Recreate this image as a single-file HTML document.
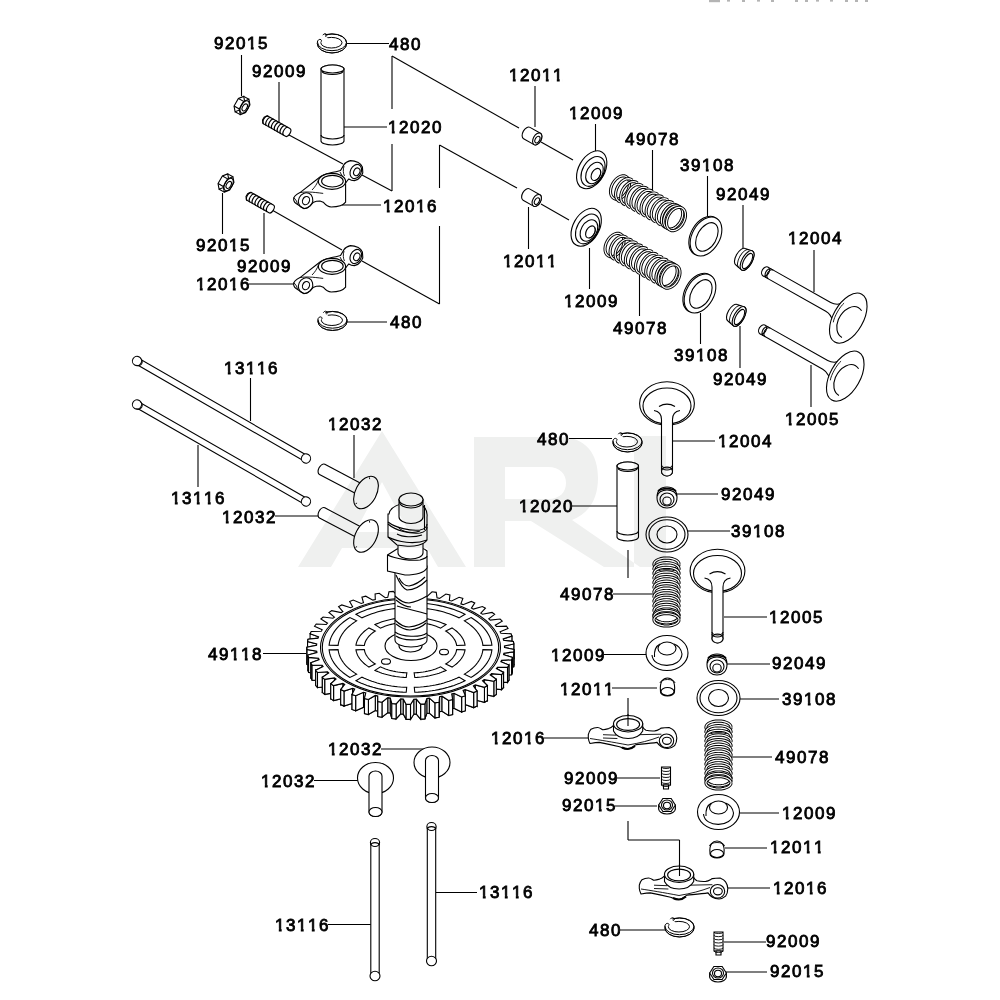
<!DOCTYPE html>
<html><head><meta charset="utf-8"><style>
html,body{margin:0;padding:0;background:#fff;width:1000px;height:1000px;overflow:hidden}
svg{position:absolute;left:0;top:0}
</style></head><body>
<svg width="1000" height="1000" viewBox="0 0 1000 1000">
<rect width="1000" height="1000" fill="#fff"/>
<g stroke="#000" stroke-width="1.1" fill="none">
<line x1="241.5" y1="55" x2="241.5" y2="96"/>
<line x1="279" y1="82" x2="279" y2="122"/>
<line x1="346" y1="43.5" x2="389" y2="43.5"/>
<line x1="344" y1="127" x2="387" y2="127"/>
<line x1="342" y1="205" x2="381" y2="205"/>
<line x1="222.5" y1="193" x2="222.5" y2="234"/>
<line x1="264" y1="213" x2="264" y2="254"/>
<line x1="249" y1="284" x2="296" y2="284"/>
<line x1="347" y1="322" x2="387" y2="322"/>
<line x1="392" y1="56" x2="392" y2="109"/>
<line x1="392" y1="144" x2="392" y2="191"/>
<line x1="392" y1="56" x2="519" y2="128"/>
<line x1="541" y1="142" x2="573" y2="160"/>
<line x1="439.5" y1="145" x2="439.5" y2="188"/>
<line x1="439.5" y1="145" x2="517" y2="188"/>
<line x1="541" y1="204" x2="569" y2="220"/>
<line x1="439.5" y1="226" x2="439.5" y2="304"/>
<line x1="289" y1="135" x2="343" y2="164"/>
<line x1="362" y1="175" x2="392" y2="191"/>
<line x1="272" y1="210" x2="342" y2="250"/>
<line x1="362" y1="261" x2="439.5" y2="304"/>
<line x1="535" y1="86" x2="535" y2="127"/>
<line x1="595.5" y1="124" x2="595.5" y2="152"/>
<line x1="652.5" y1="150" x2="652.5" y2="190"/>
<line x1="707.5" y1="176" x2="707.5" y2="218"/>
<line x1="743" y1="205" x2="743" y2="248"/>
<line x1="814" y1="250" x2="814" y2="292"/>
<line x1="528.5" y1="207" x2="528.5" y2="249"/>
<line x1="589.5" y1="248" x2="589.5" y2="289"/>
<line x1="639.5" y1="275" x2="639.5" y2="316"/>
<line x1="700.5" y1="313" x2="700.5" y2="344"/>
<line x1="740" y1="326" x2="740" y2="368"/>
<line x1="811" y1="365" x2="811" y2="407"/>
<line x1="250.5" y1="378" x2="250.5" y2="421"/>
<line x1="198" y1="445" x2="198" y2="487"/>
<line x1="354" y1="435" x2="354" y2="478"/>
<line x1="275" y1="516" x2="320" y2="516"/>
<line x1="263" y1="653.5" x2="306" y2="653.5"/>
<line x1="569" y1="438.5" x2="612" y2="438.5"/>
<line x1="673" y1="441" x2="715" y2="441"/>
<line x1="572" y1="506" x2="617" y2="506"/>
<line x1="677" y1="494" x2="718" y2="494"/>
<line x1="688" y1="531" x2="730" y2="531"/>
<line x1="628" y1="550" x2="628" y2="578"/>
<line x1="613" y1="594" x2="654" y2="594"/>
<line x1="724" y1="617" x2="767" y2="617"/>
<line x1="604" y1="654.5" x2="646" y2="654.5"/>
<line x1="727" y1="664" x2="770" y2="664"/>
<line x1="612" y1="688" x2="657" y2="688"/>
<line x1="628" y1="698" x2="628" y2="726"/>
<line x1="740" y1="699" x2="779" y2="699"/>
<line x1="544" y1="738" x2="589" y2="738"/>
<line x1="731" y1="757" x2="772" y2="757"/>
<line x1="617" y1="778" x2="660" y2="778"/>
<line x1="740" y1="813" x2="779" y2="813"/>
<line x1="615" y1="806" x2="657" y2="806"/>
<line x1="725" y1="848" x2="767" y2="848"/>
<line x1="628" y1="821" x2="628" y2="840"/>
<line x1="628" y1="840" x2="679.5" y2="840"/>
<line x1="679.5" y1="840" x2="679.5" y2="876"/>
<line x1="728" y1="888" x2="770" y2="888"/>
<line x1="620" y1="930" x2="665" y2="930"/>
<line x1="724" y1="942" x2="766" y2="942"/>
<line x1="726" y1="972" x2="767" y2="972"/>
<line x1="381" y1="749" x2="425" y2="749"/>
<line x1="314" y1="780.5" x2="358" y2="780.5"/>
<line x1="436" y1="892.5" x2="477" y2="892.5"/>
<line x1="328" y1="924.5" x2="371" y2="924.5"/>
</g>
<g transform="translate(332 43.5)"><g stroke="#000" stroke-width="1"><ellipse cx="0" cy="0" rx="14.75" ry="9.5" fill="#fff"/><path d="M-14.6,0.3 A14.6,9.1 0 0 0 14.6,0.3" fill="none" stroke-width="0.8"/><ellipse cx="0" cy="-1.2" rx="14.5" ry="8.4" fill="none"/><ellipse cx="-0.6" cy="-0.8" rx="10.6" ry="5.3" fill="#fff"/><path d="M-1,-1 L-17,-1.5 L-10,-12 Z" fill="#fff" stroke="none"/><path d="M-14.7,-1.2 C-14.5,-3.5 -12.5,-4.8 -11,-3.8 C-10,-3 -10.5,-1.5 -11.2,-1.8" fill="none"/><path d="M-9.2,-8.3 C-8.2,-10.3 -5.5,-10.2 -5.2,-8.5 C-5,-7.2 -6.2,-6.8 -6.8,-7.3" fill="none"/></g></g>
<g stroke="#000" stroke-width="1.1"><path d="M321,69 L321,141 A11.5,4 0 0 0 344,141 L344,69 A11.5,4 0 0 0 321,69 Z" fill="#fff"/><ellipse cx="332.5" cy="69" rx="11.5" ry="4" fill="#fff" /><path d="M322,71 A10.5,3.5 0 0 0 343,71" fill="none"/><path d="M321,135 A11.5,4 0 0 0 344,135" fill="none"/></g>
<g transform="translate(242 105.5) rotate(29.5)"><g stroke="#000" stroke-width="1.1"><path d="M-3,-8.5 L3,-8.5 L3,8.5 L-3,8.5 Z" fill="#fff" stroke="none"/><polygon points="-3,8.8 -6.64,4.4 -6.64,-4.4 -3,-8.8 0.64,-4.4 0.64,4.4" fill="#fff"/><path d="M-3,-8.8 L3,-8.8 M-6.6,-4.4 L-0.6,-4.4 M-6.6,4.4 L-0.6,4.4 M-3,8.8 L3,8.8" fill="none"/><polygon points="3,8.8 -0.64,4.4 -0.64,-4.4 3,-8.8 6.64,-4.4 6.64,4.4" fill="#fff"/><ellipse cx="3" cy="0" rx="3.8" ry="6.8" fill="none" /><ellipse cx="3.3" cy="0.3" rx="2.2" ry="3.8" fill="#fff" /></g></g>
<g transform="translate(275.5 125.5) rotate(29.5)"><g stroke="#000" stroke-width="1.1"><path d="M-11.5,-4.5 L14,-4.5 A2.5,4.5 0 0 1 14,4.5 L-11.5,4.5 L-14,1.7 L-14,-1.7 Z" fill="#fff"/><path d="M-11,-4.5 A2.4,4.5 0 0 0 -11,4.5" fill="none"/><path d="M-7.71,-4.5 A2.4,4.5 0 0 0 -7.71,4.5" fill="none"/><path d="M-4.43,-4.5 A2.4,4.5 0 0 0 -4.43,4.5" fill="none"/><path d="M-1.14,-4.5 A2.4,4.5 0 0 0 -1.14,4.5" fill="none"/><path d="M2.14,-4.5 A2.4,4.5 0 0 0 2.14,4.5" fill="none"/><path d="M5.43,-4.5 A2.4,4.5 0 0 0 5.43,4.5" fill="none"/><path d="M8.71,-4.5 A2.4,4.5 0 0 0 8.71,4.5" fill="none"/><path d="M12,-4.5 A2.4,4.5 0 0 0 12,4.5" fill="none"/></g></g>
<g transform="translate(0 0)" stroke="#000" stroke-width="1.1"><path d="M318.4,178.2 L300,192.6 C296,194.6 293.6,196.6 293.6,199 C293.6,201.6 295.5,203.5 297.6,204.6 L304,208.6 C306,208.6 308,207.6 309.6,206.2 L313.6,202.2 C316,201 318,201 320,201 L323.2,202.2 C326,205.5 328.5,207 331.2,207 C338,207 343.5,205 345.6,202.2 L345.6,183 C347,181 348,179.5 348.8,179 C351,180.5 352.5,180.6 354.4,180.6 C357,180 359,179 360,177.4 C362,175 362.8,174 362.8,172.6 L362.4,167 C361,164 359,163 357.6,162.2 C355,160.8 352.5,160.6 350.4,160.6 C347,161.5 345,163 344,164.6 L340.5,170.5 C337,171.5 335,172 332.8,172.2 C326,173.5 321,175.5 318.4,178.2 Z" fill="#fff"/><ellipse cx="355.8" cy="171.5" rx="5.4" ry="7.4" transform="rotate(25 355.8 171.5)" fill="none"/><ellipse cx="356.8" cy="171.8" rx="3" ry="4" transform="rotate(25 356.8 171.8)" fill="#fff"/><path d="M344,166 C343,170 343,173 344.5,176 M340,172 L346,183" fill="none" stroke-width="0.9"/><ellipse cx="305.6" cy="200.6" rx="7" ry="8" transform="rotate(25 305.6 200.6)" fill="none"/><ellipse cx="306" cy="200.6" rx="3.4" ry="4.3" transform="rotate(25 306 200.6)" fill="#fff"/><path d="M300,192.6 C306,191.5 312,192 323.2,193.4 M312,190 C315,187 317,184 318.4,180" fill="none" stroke-width="0.9"/><path d="M293.8,197.5 L296.5,201 L297.6,204.6" fill="none" stroke-width="0.9"/><ellipse cx="332" cy="181.4" rx="13.6" ry="8" fill="#fff"/><ellipse cx="332.4" cy="181.2" rx="10.8" ry="5.8" fill="#fff"/></g>
<g transform="translate(226 183) rotate(29.5)"><g stroke="#000" stroke-width="1.1"><path d="M-3,-8.5 L3,-8.5 L3,8.5 L-3,8.5 Z" fill="#fff" stroke="none"/><polygon points="-3,8.8 -6.64,4.4 -6.64,-4.4 -3,-8.8 0.64,-4.4 0.64,4.4" fill="#fff"/><path d="M-3,-8.8 L3,-8.8 M-6.6,-4.4 L-0.6,-4.4 M-6.6,4.4 L-0.6,4.4 M-3,8.8 L3,8.8" fill="none"/><polygon points="3,8.8 -0.64,4.4 -0.64,-4.4 3,-8.8 6.64,-4.4 6.64,4.4" fill="#fff"/><ellipse cx="3" cy="0" rx="3.8" ry="6.8" fill="none" /><ellipse cx="3.3" cy="0.3" rx="2.2" ry="3.8" fill="#fff" /></g></g>
<g transform="translate(259 202) rotate(29.5)"><g stroke="#000" stroke-width="1.1"><path d="M-11.5,-4.5 L14,-4.5 A2.5,4.5 0 0 1 14,4.5 L-11.5,4.5 L-14,1.7 L-14,-1.7 Z" fill="#fff"/><path d="M-11,-4.5 A2.4,4.5 0 0 0 -11,4.5" fill="none"/><path d="M-7.71,-4.5 A2.4,4.5 0 0 0 -7.71,4.5" fill="none"/><path d="M-4.43,-4.5 A2.4,4.5 0 0 0 -4.43,4.5" fill="none"/><path d="M-1.14,-4.5 A2.4,4.5 0 0 0 -1.14,4.5" fill="none"/><path d="M2.14,-4.5 A2.4,4.5 0 0 0 2.14,4.5" fill="none"/><path d="M5.43,-4.5 A2.4,4.5 0 0 0 5.43,4.5" fill="none"/><path d="M8.71,-4.5 A2.4,4.5 0 0 0 8.71,4.5" fill="none"/><path d="M12,-4.5 A2.4,4.5 0 0 0 12,4.5" fill="none"/></g></g>
<g transform="translate(0 85)" stroke="#000" stroke-width="1.1"><path d="M318.4,178.2 L300,192.6 C296,194.6 293.6,196.6 293.6,199 C293.6,201.6 295.5,203.5 297.6,204.6 L304,208.6 C306,208.6 308,207.6 309.6,206.2 L313.6,202.2 C316,201 318,201 320,201 L323.2,202.2 C326,205.5 328.5,207 331.2,207 C338,207 343.5,205 345.6,202.2 L345.6,183 C347,181 348,179.5 348.8,179 C351,180.5 352.5,180.6 354.4,180.6 C357,180 359,179 360,177.4 C362,175 362.8,174 362.8,172.6 L362.4,167 C361,164 359,163 357.6,162.2 C355,160.8 352.5,160.6 350.4,160.6 C347,161.5 345,163 344,164.6 L340.5,170.5 C337,171.5 335,172 332.8,172.2 C326,173.5 321,175.5 318.4,178.2 Z" fill="#fff"/><ellipse cx="355.8" cy="171.5" rx="5.4" ry="7.4" transform="rotate(25 355.8 171.5)" fill="none"/><ellipse cx="356.8" cy="171.8" rx="3" ry="4" transform="rotate(25 356.8 171.8)" fill="#fff"/><path d="M344,166 C343,170 343,173 344.5,176 M340,172 L346,183" fill="none" stroke-width="0.9"/><ellipse cx="305.6" cy="200.6" rx="7" ry="8" transform="rotate(25 305.6 200.6)" fill="none"/><ellipse cx="306" cy="200.6" rx="3.4" ry="4.3" transform="rotate(25 306 200.6)" fill="#fff"/><path d="M300,192.6 C306,191.5 312,192 323.2,193.4 M312,190 C315,187 317,184 318.4,180" fill="none" stroke-width="0.9"/><path d="M293.8,197.5 L296.5,201 L297.6,204.6" fill="none" stroke-width="0.9"/><ellipse cx="332" cy="181.4" rx="13.6" ry="8" fill="#fff"/><ellipse cx="332.4" cy="181.2" rx="10.8" ry="5.8" fill="#fff"/></g>
<g transform="translate(332.5 321)"><g stroke="#000" stroke-width="1"><ellipse cx="0" cy="0" rx="14.75" ry="9.5" fill="#fff"/><path d="M-14.6,0.3 A14.6,9.1 0 0 0 14.6,0.3" fill="none" stroke-width="0.8"/><ellipse cx="0" cy="-1.2" rx="14.5" ry="8.4" fill="none"/><ellipse cx="-0.6" cy="-0.8" rx="10.6" ry="5.3" fill="#fff"/><path d="M-1,-1 L-17,-1.5 L-10,-12 Z" fill="#fff" stroke="none"/><path d="M-14.7,-1.2 C-14.5,-3.5 -12.5,-4.8 -11,-3.8 C-10,-3 -10.5,-1.5 -11.2,-1.8" fill="none"/><path d="M-9.2,-8.3 C-8.2,-10.3 -5.5,-10.2 -5.2,-8.5 C-5,-7.2 -6.2,-6.8 -6.8,-7.3" fill="none"/></g></g>
<g transform="translate(532 136) rotate(29.5)"><g stroke="#000" stroke-width="1.1"><path d="M-6,-6.5 L6,-6.5 A3.9,6.5 0 0 1 6,6.5 L-6,6.5 A3.9,6.5 0 0 1 -6,-6.5 Z" fill="#fff"/><ellipse cx="6" cy="0" rx="3.9" ry="6.5" fill="#fff" /><ellipse cx="6.5" cy="0.5" rx="2.15" ry="3.58" fill="#fff" /></g></g>
<g transform="translate(531.5 197.5) rotate(29.5)"><g stroke="#000" stroke-width="1.1"><path d="M-6,-6.5 L6,-6.5 A3.9,6.5 0 0 1 6,6.5 L-6,6.5 A3.9,6.5 0 0 1 -6,-6.5 Z" fill="#fff"/><ellipse cx="6" cy="0" rx="3.9" ry="6.5" fill="#fff" /><ellipse cx="6.5" cy="0.5" rx="2.15" ry="3.58" fill="#fff" /></g></g>
<g transform="translate(593 170.5) rotate(29.5)"><g stroke="#000" stroke-width="1.1"><ellipse cx="-1.5" cy="0" rx="13" ry="20.5" fill="#fff" /><ellipse cx="0.5" cy="0.8" rx="10.5" ry="16" fill="none" /><ellipse cx="2.5" cy="1.5" rx="7.8" ry="11.5" fill="none" /><ellipse cx="4.5" cy="2" rx="4.2" ry="6.5" fill="none" /><path d="M6,-4 A4.2,6.5 0 0 1 6,8" fill="none" stroke-width="0.9"/></g></g>
<g transform="translate(587.5 228) rotate(29.5)"><g stroke="#000" stroke-width="1.1"><ellipse cx="-1.5" cy="0" rx="13" ry="20.5" fill="#fff" /><ellipse cx="0.5" cy="0.8" rx="10.5" ry="16" fill="none" /><ellipse cx="2.5" cy="1.5" rx="7.8" ry="11.5" fill="none" /><ellipse cx="4.5" cy="2" rx="4.2" ry="6.5" fill="none" /><path d="M6,-4 A4.2,6.5 0 0 1 6,8" fill="none" stroke-width="0.9"/></g></g>
<g transform="translate(620 187.5) rotate(29.36)"><path d="M8.32,0 L8.11,2.8 L7.49,5.47 L6.5,7.86 L5.18,9.85 L3.61,11.35 L1.85,12.28 L0,12.6 L-1.85,12.28 L-3.61,11.35 L-5.18,9.85 L-6.5,7.86 L-7.49,5.47 L-8.11,2.8 L-8.32,0 L-8.11,-2.8 L-7.49,-5.47 L-6.5,-7.86 L-5.18,-9.85 L-3.61,-11.35 L-1.85,-12.28 L-0,-12.6 L1.85,-12.28 L3.61,-11.35 L5.18,-9.85 L6.5,-7.86 L7.49,-5.47 L8.11,-2.8 L8.32,-0" fill="none" stroke="#000" stroke-width="3.1"/><path d="M8.32,0 L8.11,2.8 L7.49,5.47 L6.5,7.86 L5.18,9.85 L3.61,11.35 L1.85,12.28 L0,12.6 L-1.85,12.28 L-3.61,11.35 L-5.18,9.85 L-6.5,7.86 L-7.49,5.47 L-8.11,2.8 L-8.32,0 L-8.11,-2.8 L-7.49,-5.47 L-6.5,-7.86 L-5.18,-9.85 L-3.61,-11.35 L-1.85,-12.28 L-0,-12.6 L1.85,-12.28 L3.61,-11.35 L5.18,-9.85 L6.5,-7.86 L7.49,-5.47 L8.11,-2.8 L8.32,-0" fill="none" stroke="#fff" stroke-width="1.2"/><path d="M7.29,12.41 L5.22,12.56 L3.19,11.94 L1.33,10.58 L-0.26,8.57 L-1.46,6.03 L-2.22,3.11 L-2.47,0 L-2.22,-3.11 L-1.46,-6.03 L-0.26,-8.57 L1.33,-10.58 L3.19,-11.94 L5.22,-12.56 L7.29,-12.41" fill="none" stroke="#000" stroke-width="3.1"/><path d="M7.29,12.41 L5.22,12.56 L3.19,11.94 L1.33,10.58 L-0.26,8.57 L-1.46,6.03 L-2.22,3.11 L-2.47,0 L-2.22,-3.11 L-1.46,-6.03 L-0.26,-8.57 L1.33,-10.58 L3.19,-11.94 L5.22,-12.56 L7.29,-12.41" fill="none" stroke="#fff" stroke-width="1.2"/><path d="M13.13,12.41 L11.06,12.56 L9.03,11.94 L7.17,10.58 L5.59,8.57 L4.38,6.03 L3.62,3.11 L3.37,0 L3.62,-3.11 L4.38,-6.03 L5.59,-8.57 L7.17,-10.58 L9.03,-11.94 L11.06,-12.56 L13.13,-12.41" fill="none" stroke="#000" stroke-width="3.1"/><path d="M13.13,12.41 L11.06,12.56 L9.03,11.94 L7.17,10.58 L5.59,8.57 L4.38,6.03 L3.62,3.11 L3.37,0 L3.62,-3.11 L4.38,-6.03 L5.59,-8.57 L7.17,-10.58 L9.03,-11.94 L11.06,-12.56 L13.13,-12.41" fill="none" stroke="#fff" stroke-width="1.2"/><path d="M18.97,12.41 L16.9,12.56 L14.87,11.94 L13.01,10.58 L11.43,8.57 L10.22,6.03 L9.46,3.11 L9.21,0 L9.46,-3.11 L10.22,-6.03 L11.43,-8.57 L13.01,-10.58 L14.87,-11.94 L16.9,-12.56 L18.97,-12.41" fill="none" stroke="#000" stroke-width="3.1"/><path d="M18.97,12.41 L16.9,12.56 L14.87,11.94 L13.01,10.58 L11.43,8.57 L10.22,6.03 L9.46,3.11 L9.21,0 L9.46,-3.11 L10.22,-6.03 L11.43,-8.57 L13.01,-10.58 L14.87,-11.94 L16.9,-12.56 L18.97,-12.41" fill="none" stroke="#fff" stroke-width="1.2"/><path d="M24.81,12.41 L22.74,12.56 L20.72,11.94 L18.85,10.58 L17.27,8.57 L16.06,6.03 L15.31,3.11 L15.05,0 L15.31,-3.11 L16.06,-6.03 L17.27,-8.57 L18.85,-10.58 L20.72,-11.94 L22.74,-12.56 L24.81,-12.41" fill="none" stroke="#000" stroke-width="3.1"/><path d="M24.81,12.41 L22.74,12.56 L20.72,11.94 L18.85,10.58 L17.27,8.57 L16.06,6.03 L15.31,3.11 L15.05,0 L15.31,-3.11 L16.06,-6.03 L17.27,-8.57 L18.85,-10.58 L20.72,-11.94 L22.74,-12.56 L24.81,-12.41" fill="none" stroke="#fff" stroke-width="1.2"/><path d="M30.65,12.41 L28.58,12.56 L26.56,11.94 L24.69,10.58 L23.11,8.57 L21.9,6.03 L21.15,3.11 L20.89,0 L21.15,-3.11 L21.9,-6.03 L23.11,-8.57 L24.69,-10.58 L26.56,-11.94 L28.58,-12.56 L30.65,-12.41" fill="none" stroke="#000" stroke-width="3.1"/><path d="M30.65,12.41 L28.58,12.56 L26.56,11.94 L24.69,10.58 L23.11,8.57 L21.9,6.03 L21.15,3.11 L20.89,0 L21.15,-3.11 L21.9,-6.03 L23.11,-8.57 L24.69,-10.58 L26.56,-11.94 L28.58,-12.56 L30.65,-12.41" fill="none" stroke="#fff" stroke-width="1.2"/><path d="M36.49,12.41 L34.42,12.56 L32.4,11.94 L30.53,10.58 L28.95,8.57 L27.74,6.03 L26.99,3.11 L26.73,0 L26.99,-3.11 L27.74,-6.03 L28.95,-8.57 L30.53,-10.58 L32.4,-11.94 L34.42,-12.56 L36.49,-12.41" fill="none" stroke="#000" stroke-width="3.1"/><path d="M36.49,12.41 L34.42,12.56 L32.4,11.94 L30.53,10.58 L28.95,8.57 L27.74,6.03 L26.99,3.11 L26.73,0 L26.99,-3.11 L27.74,-6.03 L28.95,-8.57 L30.53,-10.58 L32.4,-11.94 L34.42,-12.56 L36.49,-12.41" fill="none" stroke="#fff" stroke-width="1.2"/><path d="M42.33,12.41 L40.27,12.56 L38.24,11.94 L36.38,10.58 L34.79,8.57 L33.58,6.03 L32.83,3.11 L32.57,0 L32.83,-3.11 L33.58,-6.03 L34.79,-8.57 L36.38,-10.58 L38.24,-11.94 L40.27,-12.56 L42.33,-12.41" fill="none" stroke="#000" stroke-width="3.1"/><path d="M42.33,12.41 L40.27,12.56 L38.24,11.94 L36.38,10.58 L34.79,8.57 L33.58,6.03 L32.83,3.11 L32.57,0 L32.83,-3.11 L33.58,-6.03 L34.79,-8.57 L36.38,-10.58 L38.24,-11.94 L40.27,-12.56 L42.33,-12.41" fill="none" stroke="#fff" stroke-width="1.2"/><path d="M48.17,12.41 L46.11,12.56 L44.08,11.94 L42.22,10.58 L40.63,8.57 L39.43,6.03 L38.67,3.11 L38.41,0 L38.67,-3.11 L39.43,-6.03 L40.63,-8.57 L42.22,-10.58 L44.08,-11.94 L46.11,-12.56 L48.17,-12.41" fill="none" stroke="#000" stroke-width="3.1"/><path d="M48.17,12.41 L46.11,12.56 L44.08,11.94 L42.22,10.58 L40.63,8.57 L39.43,6.03 L38.67,3.11 L38.41,0 L38.67,-3.11 L39.43,-6.03 L40.63,-8.57 L42.22,-10.58 L44.08,-11.94 L46.11,-12.56 L48.17,-12.41" fill="none" stroke="#fff" stroke-width="1.2"/><path d="M54.01,12.41 L51.95,12.56 L49.92,11.94 L48.06,10.58 L46.47,8.57 L45.27,6.03 L44.51,3.11 L44.25,0 L44.51,-3.11 L45.27,-6.03 L46.47,-8.57 L48.06,-10.58 L49.92,-11.94 L51.95,-12.56 L54.01,-12.41" fill="none" stroke="#000" stroke-width="3.1"/><path d="M54.01,12.41 L51.95,12.56 L49.92,11.94 L48.06,10.58 L46.47,8.57 L45.27,6.03 L44.51,3.11 L44.25,0 L44.51,-3.11 L45.27,-6.03 L46.47,-8.57 L48.06,-10.58 L49.92,-11.94 L51.95,-12.56 L54.01,-12.41" fill="none" stroke="#fff" stroke-width="1.2"/><path d="M59.85,12.41 L57.79,12.56 L55.76,11.94 L53.9,10.58 L52.31,8.57 L51.11,6.03 L50.35,3.11 L50.09,0 L50.35,-3.11 L51.11,-6.03 L52.31,-8.57 L53.9,-10.58 L55.76,-11.94 L57.79,-12.56 L59.85,-12.41" fill="none" stroke="#000" stroke-width="3.1"/><path d="M59.85,12.41 L57.79,12.56 L55.76,11.94 L53.9,10.58 L52.31,8.57 L51.11,6.03 L50.35,3.11 L50.09,0 L50.35,-3.11 L51.11,-6.03 L52.31,-8.57 L53.9,-10.58 L55.76,-11.94 L57.79,-12.56 L59.85,-12.41" fill="none" stroke="#fff" stroke-width="1.2"/><path d="M69.37,0 L69.16,2.8 L68.54,5.47 L67.55,7.86 L66.24,9.85 L64.66,11.35 L62.9,12.28 L61.05,12.6 L59.2,12.28 L57.44,11.35 L55.87,9.85 L54.55,7.86 L53.56,5.47 L52.94,2.8 L52.74,0 L52.94,-2.8 L53.56,-5.47 L54.55,-7.86 L55.87,-9.85 L57.44,-11.35 L59.2,-12.28 L61.05,-12.6 L62.9,-12.28 L64.66,-11.35 L66.24,-9.85 L67.55,-7.86 L68.54,-5.47 L69.16,-2.8 L69.37,-0" fill="none" stroke="#000" stroke-width="3.1"/><path d="M69.37,0 L69.16,2.8 L68.54,5.47 L67.55,7.86 L66.24,9.85 L64.66,11.35 L62.9,12.28 L61.05,12.6 L59.2,12.28 L57.44,11.35 L55.87,9.85 L54.55,7.86 L53.56,5.47 L52.94,2.8 L52.74,0 L52.94,-2.8 L53.56,-5.47 L54.55,-7.86 L55.87,-9.85 L57.44,-11.35 L59.2,-12.28 L61.05,-12.6 L62.9,-12.28 L64.66,-11.35 L66.24,-9.85 L67.55,-7.86 L68.54,-5.47 L69.16,-2.8 L69.37,-0" fill="none" stroke="#fff" stroke-width="1.2"/><path d="M72.57,0 L72.36,2.8 L71.74,5.47 L70.75,7.86 L69.44,9.85 L67.86,11.35 L66.1,12.28 L64.25,12.6 L62.4,12.28 L60.64,11.35 L59.07,9.85 L57.75,7.86 L56.76,5.47 L56.14,2.8 L55.94,0 L56.14,-2.8 L56.76,-5.47 L57.75,-7.86 L59.07,-9.85 L60.64,-11.35 L62.4,-12.28 L64.25,-12.6 L66.1,-12.28 L67.86,-11.35 L69.44,-9.85 L70.75,-7.86 L71.74,-5.47 L72.36,-2.8 L72.57,-0" fill="none" stroke="#000" stroke-width="3.1"/><path d="M72.57,0 L72.36,2.8 L71.74,5.47 L70.75,7.86 L69.44,9.85 L67.86,11.35 L66.1,12.28 L64.25,12.6 L62.4,12.28 L60.64,11.35 L59.07,9.85 L57.75,7.86 L56.76,5.47 L56.14,2.8 L55.94,0 L56.14,-2.8 L56.76,-5.47 L57.75,-7.86 L59.07,-9.85 L60.64,-11.35 L62.4,-12.28 L64.25,-12.6 L66.1,-12.28 L67.86,-11.35 L69.44,-9.85 L70.75,-7.86 L71.74,-5.47 L72.36,-2.8 L72.57,-0" fill="none" stroke="#fff" stroke-width="1.2"/></g>
<g transform="translate(614.5 245) rotate(29.36)"><path d="M8.32,0 L8.11,2.8 L7.49,5.47 L6.5,7.86 L5.18,9.85 L3.61,11.35 L1.85,12.28 L0,12.6 L-1.85,12.28 L-3.61,11.35 L-5.18,9.85 L-6.5,7.86 L-7.49,5.47 L-8.11,2.8 L-8.32,0 L-8.11,-2.8 L-7.49,-5.47 L-6.5,-7.86 L-5.18,-9.85 L-3.61,-11.35 L-1.85,-12.28 L-0,-12.6 L1.85,-12.28 L3.61,-11.35 L5.18,-9.85 L6.5,-7.86 L7.49,-5.47 L8.11,-2.8 L8.32,-0" fill="none" stroke="#000" stroke-width="3.1"/><path d="M8.32,0 L8.11,2.8 L7.49,5.47 L6.5,7.86 L5.18,9.85 L3.61,11.35 L1.85,12.28 L0,12.6 L-1.85,12.28 L-3.61,11.35 L-5.18,9.85 L-6.5,7.86 L-7.49,5.47 L-8.11,2.8 L-8.32,0 L-8.11,-2.8 L-7.49,-5.47 L-6.5,-7.86 L-5.18,-9.85 L-3.61,-11.35 L-1.85,-12.28 L-0,-12.6 L1.85,-12.28 L3.61,-11.35 L5.18,-9.85 L6.5,-7.86 L7.49,-5.47 L8.11,-2.8 L8.32,-0" fill="none" stroke="#fff" stroke-width="1.2"/><path d="M7.29,12.41 L5.22,12.56 L3.19,11.94 L1.33,10.58 L-0.26,8.57 L-1.46,6.03 L-2.22,3.11 L-2.47,0 L-2.22,-3.11 L-1.46,-6.03 L-0.26,-8.57 L1.33,-10.58 L3.19,-11.94 L5.22,-12.56 L7.29,-12.41" fill="none" stroke="#000" stroke-width="3.1"/><path d="M7.29,12.41 L5.22,12.56 L3.19,11.94 L1.33,10.58 L-0.26,8.57 L-1.46,6.03 L-2.22,3.11 L-2.47,0 L-2.22,-3.11 L-1.46,-6.03 L-0.26,-8.57 L1.33,-10.58 L3.19,-11.94 L5.22,-12.56 L7.29,-12.41" fill="none" stroke="#fff" stroke-width="1.2"/><path d="M13.13,12.41 L11.06,12.56 L9.03,11.94 L7.17,10.58 L5.59,8.57 L4.38,6.03 L3.62,3.11 L3.37,0 L3.62,-3.11 L4.38,-6.03 L5.59,-8.57 L7.17,-10.58 L9.03,-11.94 L11.06,-12.56 L13.13,-12.41" fill="none" stroke="#000" stroke-width="3.1"/><path d="M13.13,12.41 L11.06,12.56 L9.03,11.94 L7.17,10.58 L5.59,8.57 L4.38,6.03 L3.62,3.11 L3.37,0 L3.62,-3.11 L4.38,-6.03 L5.59,-8.57 L7.17,-10.58 L9.03,-11.94 L11.06,-12.56 L13.13,-12.41" fill="none" stroke="#fff" stroke-width="1.2"/><path d="M18.97,12.41 L16.9,12.56 L14.87,11.94 L13.01,10.58 L11.43,8.57 L10.22,6.03 L9.46,3.11 L9.21,0 L9.46,-3.11 L10.22,-6.03 L11.43,-8.57 L13.01,-10.58 L14.87,-11.94 L16.9,-12.56 L18.97,-12.41" fill="none" stroke="#000" stroke-width="3.1"/><path d="M18.97,12.41 L16.9,12.56 L14.87,11.94 L13.01,10.58 L11.43,8.57 L10.22,6.03 L9.46,3.11 L9.21,0 L9.46,-3.11 L10.22,-6.03 L11.43,-8.57 L13.01,-10.58 L14.87,-11.94 L16.9,-12.56 L18.97,-12.41" fill="none" stroke="#fff" stroke-width="1.2"/><path d="M24.81,12.41 L22.74,12.56 L20.72,11.94 L18.85,10.58 L17.27,8.57 L16.06,6.03 L15.31,3.11 L15.05,0 L15.31,-3.11 L16.06,-6.03 L17.27,-8.57 L18.85,-10.58 L20.72,-11.94 L22.74,-12.56 L24.81,-12.41" fill="none" stroke="#000" stroke-width="3.1"/><path d="M24.81,12.41 L22.74,12.56 L20.72,11.94 L18.85,10.58 L17.27,8.57 L16.06,6.03 L15.31,3.11 L15.05,0 L15.31,-3.11 L16.06,-6.03 L17.27,-8.57 L18.85,-10.58 L20.72,-11.94 L22.74,-12.56 L24.81,-12.41" fill="none" stroke="#fff" stroke-width="1.2"/><path d="M30.65,12.41 L28.58,12.56 L26.56,11.94 L24.69,10.58 L23.11,8.57 L21.9,6.03 L21.15,3.11 L20.89,0 L21.15,-3.11 L21.9,-6.03 L23.11,-8.57 L24.69,-10.58 L26.56,-11.94 L28.58,-12.56 L30.65,-12.41" fill="none" stroke="#000" stroke-width="3.1"/><path d="M30.65,12.41 L28.58,12.56 L26.56,11.94 L24.69,10.58 L23.11,8.57 L21.9,6.03 L21.15,3.11 L20.89,0 L21.15,-3.11 L21.9,-6.03 L23.11,-8.57 L24.69,-10.58 L26.56,-11.94 L28.58,-12.56 L30.65,-12.41" fill="none" stroke="#fff" stroke-width="1.2"/><path d="M36.49,12.41 L34.42,12.56 L32.4,11.94 L30.53,10.58 L28.95,8.57 L27.74,6.03 L26.99,3.11 L26.73,0 L26.99,-3.11 L27.74,-6.03 L28.95,-8.57 L30.53,-10.58 L32.4,-11.94 L34.42,-12.56 L36.49,-12.41" fill="none" stroke="#000" stroke-width="3.1"/><path d="M36.49,12.41 L34.42,12.56 L32.4,11.94 L30.53,10.58 L28.95,8.57 L27.74,6.03 L26.99,3.11 L26.73,0 L26.99,-3.11 L27.74,-6.03 L28.95,-8.57 L30.53,-10.58 L32.4,-11.94 L34.42,-12.56 L36.49,-12.41" fill="none" stroke="#fff" stroke-width="1.2"/><path d="M42.33,12.41 L40.27,12.56 L38.24,11.94 L36.38,10.58 L34.79,8.57 L33.58,6.03 L32.83,3.11 L32.57,0 L32.83,-3.11 L33.58,-6.03 L34.79,-8.57 L36.38,-10.58 L38.24,-11.94 L40.27,-12.56 L42.33,-12.41" fill="none" stroke="#000" stroke-width="3.1"/><path d="M42.33,12.41 L40.27,12.56 L38.24,11.94 L36.38,10.58 L34.79,8.57 L33.58,6.03 L32.83,3.11 L32.57,0 L32.83,-3.11 L33.58,-6.03 L34.79,-8.57 L36.38,-10.58 L38.24,-11.94 L40.27,-12.56 L42.33,-12.41" fill="none" stroke="#fff" stroke-width="1.2"/><path d="M48.17,12.41 L46.11,12.56 L44.08,11.94 L42.22,10.58 L40.63,8.57 L39.43,6.03 L38.67,3.11 L38.41,0 L38.67,-3.11 L39.43,-6.03 L40.63,-8.57 L42.22,-10.58 L44.08,-11.94 L46.11,-12.56 L48.17,-12.41" fill="none" stroke="#000" stroke-width="3.1"/><path d="M48.17,12.41 L46.11,12.56 L44.08,11.94 L42.22,10.58 L40.63,8.57 L39.43,6.03 L38.67,3.11 L38.41,0 L38.67,-3.11 L39.43,-6.03 L40.63,-8.57 L42.22,-10.58 L44.08,-11.94 L46.11,-12.56 L48.17,-12.41" fill="none" stroke="#fff" stroke-width="1.2"/><path d="M54.01,12.41 L51.95,12.56 L49.92,11.94 L48.06,10.58 L46.47,8.57 L45.27,6.03 L44.51,3.11 L44.25,0 L44.51,-3.11 L45.27,-6.03 L46.47,-8.57 L48.06,-10.58 L49.92,-11.94 L51.95,-12.56 L54.01,-12.41" fill="none" stroke="#000" stroke-width="3.1"/><path d="M54.01,12.41 L51.95,12.56 L49.92,11.94 L48.06,10.58 L46.47,8.57 L45.27,6.03 L44.51,3.11 L44.25,0 L44.51,-3.11 L45.27,-6.03 L46.47,-8.57 L48.06,-10.58 L49.92,-11.94 L51.95,-12.56 L54.01,-12.41" fill="none" stroke="#fff" stroke-width="1.2"/><path d="M59.85,12.41 L57.79,12.56 L55.76,11.94 L53.9,10.58 L52.31,8.57 L51.11,6.03 L50.35,3.11 L50.09,0 L50.35,-3.11 L51.11,-6.03 L52.31,-8.57 L53.9,-10.58 L55.76,-11.94 L57.79,-12.56 L59.85,-12.41" fill="none" stroke="#000" stroke-width="3.1"/><path d="M59.85,12.41 L57.79,12.56 L55.76,11.94 L53.9,10.58 L52.31,8.57 L51.11,6.03 L50.35,3.11 L50.09,0 L50.35,-3.11 L51.11,-6.03 L52.31,-8.57 L53.9,-10.58 L55.76,-11.94 L57.79,-12.56 L59.85,-12.41" fill="none" stroke="#fff" stroke-width="1.2"/><path d="M69.37,0 L69.16,2.8 L68.54,5.47 L67.55,7.86 L66.24,9.85 L64.66,11.35 L62.9,12.28 L61.05,12.6 L59.2,12.28 L57.44,11.35 L55.87,9.85 L54.55,7.86 L53.56,5.47 L52.94,2.8 L52.74,0 L52.94,-2.8 L53.56,-5.47 L54.55,-7.86 L55.87,-9.85 L57.44,-11.35 L59.2,-12.28 L61.05,-12.6 L62.9,-12.28 L64.66,-11.35 L66.24,-9.85 L67.55,-7.86 L68.54,-5.47 L69.16,-2.8 L69.37,-0" fill="none" stroke="#000" stroke-width="3.1"/><path d="M69.37,0 L69.16,2.8 L68.54,5.47 L67.55,7.86 L66.24,9.85 L64.66,11.35 L62.9,12.28 L61.05,12.6 L59.2,12.28 L57.44,11.35 L55.87,9.85 L54.55,7.86 L53.56,5.47 L52.94,2.8 L52.74,0 L52.94,-2.8 L53.56,-5.47 L54.55,-7.86 L55.87,-9.85 L57.44,-11.35 L59.2,-12.28 L61.05,-12.6 L62.9,-12.28 L64.66,-11.35 L66.24,-9.85 L67.55,-7.86 L68.54,-5.47 L69.16,-2.8 L69.37,-0" fill="none" stroke="#fff" stroke-width="1.2"/><path d="M72.57,0 L72.36,2.8 L71.74,5.47 L70.75,7.86 L69.44,9.85 L67.86,11.35 L66.1,12.28 L64.25,12.6 L62.4,12.28 L60.64,11.35 L59.07,9.85 L57.75,7.86 L56.76,5.47 L56.14,2.8 L55.94,0 L56.14,-2.8 L56.76,-5.47 L57.75,-7.86 L59.07,-9.85 L60.64,-11.35 L62.4,-12.28 L64.25,-12.6 L66.1,-12.28 L67.86,-11.35 L69.44,-9.85 L70.75,-7.86 L71.74,-5.47 L72.36,-2.8 L72.57,-0" fill="none" stroke="#000" stroke-width="3.1"/><path d="M72.57,0 L72.36,2.8 L71.74,5.47 L70.75,7.86 L69.44,9.85 L67.86,11.35 L66.1,12.28 L64.25,12.6 L62.4,12.28 L60.64,11.35 L59.07,9.85 L57.75,7.86 L56.76,5.47 L56.14,2.8 L55.94,0 L56.14,-2.8 L56.76,-5.47 L57.75,-7.86 L59.07,-9.85 L60.64,-11.35 L62.4,-12.28 L64.25,-12.6 L66.1,-12.28 L67.86,-11.35 L69.44,-9.85 L70.75,-7.86 L71.74,-5.47 L72.36,-2.8 L72.57,-0" fill="none" stroke="#fff" stroke-width="1.2"/></g>
<g transform="translate(706 236.5) rotate(29.5)"><g stroke="#000" stroke-width="1.1"><ellipse cx="-1.5" cy="0" rx="13.8" ry="21" fill="#fff" /><path fill="#fff" fill-rule="evenodd" d="M0,-21 A13.8,21 0 1 0 0,21 A13.8,21 0 1 0 0,-21 Z M1,-15.5 A9.5,15.5 0 1 0 1,15.5 A9.5,15.5 0 1 0 1,-15.5 Z"/></g></g>
<g transform="translate(700 293.5) rotate(29.5)"><g stroke="#000" stroke-width="1.1"><ellipse cx="-1.5" cy="0" rx="13.8" ry="21" fill="#fff" /><path fill="#fff" fill-rule="evenodd" d="M0,-21 A13.8,21 0 1 0 0,21 A13.8,21 0 1 0 0,-21 Z M1,-15.5 A9.5,15.5 0 1 0 1,15.5 A9.5,15.5 0 1 0 1,-15.5 Z"/></g></g>
<g transform="translate(744.5 259) rotate(29.5)"><g stroke="#000" stroke-width="1.1"><path d="M-4.5,-9.5 L3,-11 A5,11 0 0 1 3,11 L-4.5,9.5 A4.5,9.5 0 0 1 -4.5,-9.5 Z" fill="#fff"/><path d="M-0.5,-10.3 A4.8,10.3 0 0 0 -0.5,10.3" fill="none" stroke-width="0.9"/><ellipse cx="3" cy="0" rx="5" ry="11" fill="#fff" /><ellipse cx="3.6" cy="0.3" rx="3.6" ry="8.5" fill="#fff" /></g></g>
<g transform="translate(736.5 315) rotate(29.5)"><g stroke="#000" stroke-width="1.1"><path d="M-4.5,-9.5 L3,-11 A5,11 0 0 1 3,11 L-4.5,9.5 A4.5,9.5 0 0 1 -4.5,-9.5 Z" fill="#fff"/><path d="M-0.5,-10.3 A4.8,10.3 0 0 0 -0.5,10.3" fill="none" stroke-width="0.9"/><ellipse cx="3" cy="0" rx="5" ry="11" fill="#fff" /><ellipse cx="3.6" cy="0.3" rx="3.6" ry="8.5" fill="#fff" /></g></g>
<g transform="translate(765.5 271.5) rotate(29.4)"><g stroke="#000" stroke-width="1.1"><path d="M0,-5 L72,-5 C80,-5 86,-12 90,-24 L90,24 C86,12 80,5 72,5 L0,5 Z" fill="#fff"/><ellipse cx="0" cy="0" rx="3.5" ry="5" fill="#fff" /><path d="M4,-5 A3.5,5 0 0 0 4,5" fill="none"/><path d="M6,-5 A3.5,5 0 0 0 6,5" fill="none"/><ellipse cx="95" cy="0" rx="15" ry="27.5" fill="#fff" /><path d="M103,-13 C92,-18 86,-4 87,6 C88,14 93,20 99,20" fill="none"/><path d="M84,-11 C82,-6 82,6 84,11" fill="none" stroke-width="0.8"/></g></g>
<g transform="translate(762.5 329.5) rotate(29.4)"><g stroke="#000" stroke-width="1.1"><path d="M0,-5 L72,-5 C80,-5 86,-12 90,-24 L90,24 C86,12 80,5 72,5 L0,5 Z" fill="#fff"/><ellipse cx="0" cy="0" rx="3.5" ry="5" fill="#fff" /><path d="M4,-5 A3.5,5 0 0 0 4,5" fill="none"/><path d="M6,-5 A3.5,5 0 0 0 6,5" fill="none"/><ellipse cx="95" cy="0" rx="15" ry="27.5" fill="#fff" /><path d="M103,-13 C92,-18 86,-4 87,6 C88,14 93,20 99,20" fill="none"/><path d="M84,-11 C82,-6 82,6 84,11" fill="none" stroke-width="0.8"/></g></g>
<g transform="translate(137 361) rotate(29.98)"><g stroke="#000" stroke-width="1.1"><path d="M0,-3.2 L195.11,-3.2 L195.11,3.2 L0,3.2 Z" fill="#fff"/><ellipse cx="0" cy="0" rx="4.6" ry="4.6" fill="#fff" /><path d="M1.5,-4 A4,4 0 0 1 1.5,4" fill="none" stroke-width="0.9"/><ellipse cx="195.11" cy="0" rx="4.6" ry="4.6" fill="#fff" /></g></g>
<g transform="translate(137 404.5) rotate(29.85)"><g stroke="#000" stroke-width="1.1"><path d="M0,-3.2 L194.86,-3.2 L194.86,3.2 L0,3.2 Z" fill="#fff"/><ellipse cx="0" cy="0" rx="4.6" ry="4.6" fill="#fff" /><path d="M1.5,-4 A4,4 0 0 1 1.5,4" fill="none" stroke-width="0.9"/><ellipse cx="194.86" cy="0" rx="4.6" ry="4.6" fill="#fff" /></g></g>
<g transform="translate(319.5 468) rotate(27.78)"><g stroke="#000" stroke-width="1.1"><path d="M3,-5.75 L52.56,-5.75 L52.56,5.75 L3,5.75 A3.5,5.75 0 0 1 3,-5.75 Z" fill="#fff"/><ellipse cx="52.56" cy="0" rx="10.5" ry="17.5" fill="#fff" /><path d="M48.56,-15 L49.56,-13.5 M48.56,15 L49.56,13.5" fill="none" stroke-width="0.8"/></g></g>
<g transform="translate(319.5 511.5) rotate(27.78)"><g stroke="#000" stroke-width="1.1"><path d="M3,-5.75 L52.56,-5.75 L52.56,5.75 L3,5.75 A3.5,5.75 0 0 1 3,-5.75 Z" fill="#fff"/><ellipse cx="52.56" cy="0" rx="10.5" ry="17.5" fill="#fff" /><path d="M48.56,-15 L49.56,-13.5 M48.56,15 L49.56,13.5" fill="none" stroke-width="0.8"/></g></g>
<g stroke="#000" stroke-width="1.1"><polygon points="504.5,662.5 513.94,664.49 513.69,666.87 503.91,668.26 503.59,669.7 512.43,672.38 511.59,674.72 501.55,675.36 500.86,676.75 508.93,680.09 507.51,682.34 497.41,682.2 496.37,683.53 503.53,687.45 501.54,689.57 491.58,688.66 490.22,689.9 496.31,694.33 493.81,696.28 484.17,694.61 482.51,695.73 487.42,700.59 484.45,702.33 475.32,699.94 473.4,700.92 477.03,706.11 473.65,707.6 465.22,704.54 463.06,705.36 465.35,710.78 461.62,712 454.05,708.32 451.71,708.97 452.6,714.5 448.6,715.43 442.03,711.2 439.55,711.67 439.03,717.22 434.84,717.83 429.4,713.14 426.82,713.41 424.9,718.87 420.6,719.15 416.4,714.1 413.78,714.17 410.5,719.42 406.17,719.38 403.29,714.05 400.67,713.92 396.1,718.87 391.82,718.49 390.31,712.99 387.76,712.66 381.97,717.22 377.83,716.51 377.73,710.96 375.29,710.44 368.4,714.5 364.48,713.49 365.79,707.98 363.5,707.27 355.65,710.78 352.03,709.47 354.72,704.11 352.63,703.24 343.97,706.11 340.71,704.54 344.73,699.44 342.88,698.41 333.58,700.59 330.75,698.79 336.02,694.04 334.45,692.89 324.69,694.33 322.35,692.33 328.77,688.04 327.5,686.77 317.47,687.45 315.66,685.29 323.1,681.53 322.17,680.18 312.07,680.09 310.81,677.81 319.14,674.66 318.55,673.25 308.57,672.38 307.91,670.03 316.95,667.55 316.73,666.11 307.06,664.49 307,662.1 316.58,660.34 316.73,658.89 307.57,656.55 308.11,654.18 318.04,653.17 318.55,651.75 310.07,648.73 311.21,646.43 321.31,646.18 322.17,644.82 314.54,641.18 316.24,638.98 326.3,639.51 327.5,638.23 320.87,634.04 323.11,632 332.94,633.29 334.45,632.11 328.94,627.45 331.68,625.61 341.09,627.64 342.88,626.59 338.6,621.55 341.78,619.93 350.58,622.66 352.63,621.76 349.66,616.45 353.22,615.09 361.25,618.47 363.5,617.73 361.91,612.24 365.78,611.16 372.87,615.12 375.29,614.56 375.1,609.01 379.2,608.24 385.22,612.7 387.76,612.34 388.98,606.82 393.24,606.37 398.07,611.25 400.67,611.08 403.28,605.71 407.61,605.6 411.16,610.8 413.78,610.83 417.72,605.71 422.04,605.93 424.23,611.35 426.82,611.59 432.02,606.82 436.24,607.36 437.04,612.9 439.55,613.33 445.9,609.01 449.94,609.87 449.33,615.42 451.71,616.03 459.09,612.24 462.87,613.4 460.87,618.85 463.06,619.64 471.34,616.45 474.79,617.89 471.42,623.13 473.4,624.08 482.4,621.55 485.45,623.24 480.79,628.18 482.51,629.27 492.06,627.45 494.66,629.36 488.79,633.89 490.22,635.1 500.13,634.04 502.22,636.13 495.27,640.16 496.37,641.47 506.46,641.18 508,643.4 500.1,646.87 500.86,648.25 510.93,648.73 511.89,651.05 503.18,653.88 503.59,655.3 513.43,656.55 513.8,658.93 504.46,661.06" fill="#fff"/><polygon points="510.93,633.73 511.89,636.05 511.89,651.05 510.93,648.73" fill="#fff"/><polygon points="318.55,636.75 310.07,633.73 310.07,648.73 318.55,651.75" fill="#fff"/><polygon points="318.04,638.17 318.55,636.75 318.55,651.75 318.04,653.17" fill="#fff"/><polygon points="511.89,636.05 503.18,638.88 503.18,653.88 511.89,651.05" fill="#fff"/><polygon points="308.11,639.18 318.04,638.17 318.04,653.17 308.11,654.18" fill="#fff"/><polygon points="503.18,638.88 503.59,640.3 503.59,655.3 503.18,653.88" fill="#fff"/><polygon points="307.57,641.55 308.11,639.18 308.11,654.18 307.57,656.55" fill="#fff"/><polygon points="503.59,640.3 513.43,641.55 513.43,656.55 503.59,655.3" fill="#fff"/><polygon points="316.73,643.89 307.57,641.55 307.57,656.55 316.73,658.89" fill="#fff"/><polygon points="513.43,641.55 513.8,643.93 513.8,658.93 513.43,656.55" fill="#fff"/><polygon points="316.58,645.34 316.73,643.89 316.73,658.89 316.58,660.34" fill="#fff"/><polygon points="513.8,643.93 504.46,646.06 504.46,661.06 513.8,658.93" fill="#fff"/><polygon points="307,647.1 316.58,645.34 316.58,660.34 307,662.1" fill="#fff"/><polygon points="504.46,646.06 504.5,647.5 504.5,662.5 504.46,661.06" fill="#fff"/><polygon points="504.5,647.5 513.94,649.49 513.94,664.49 504.5,662.5" fill="#fff"/><polygon points="307.06,649.49 307,647.1 307,662.1 307.06,664.49" fill="#fff"/><polygon points="316.73,651.11 307.06,649.49 307.06,664.49 316.73,666.11" fill="#fff"/><polygon points="513.94,649.49 513.69,651.87 513.69,666.87 513.94,664.49" fill="#fff"/><polygon points="316.95,652.55 316.73,651.11 316.73,666.11 316.95,667.55" fill="#fff"/><polygon points="513.69,651.87 503.91,653.26 503.91,668.26 513.69,666.87" fill="#fff"/><polygon points="503.91,653.26 503.59,654.7 503.59,669.7 503.91,668.26" fill="#fff"/><polygon points="307.91,655.03 316.95,652.55 316.95,667.55 307.91,670.03" fill="#fff"/><polygon points="503.59,654.7 512.43,657.38 512.43,672.38 503.59,669.7" fill="#fff"/><polygon points="308.57,657.38 307.91,655.03 307.91,670.03 308.57,672.38" fill="#fff"/><polygon points="318.55,658.25 308.57,657.38 308.57,672.38 318.55,673.25" fill="#fff"/><polygon points="319.14,659.66 318.55,658.25 318.55,673.25 319.14,674.66" fill="#fff"/><polygon points="512.43,657.38 511.59,659.72 511.59,674.72 512.43,672.38" fill="#fff"/><polygon points="511.59,659.72 501.55,660.36 501.55,675.36 511.59,674.72" fill="#fff"/><polygon points="501.55,660.36 500.86,661.75 500.86,676.75 501.55,675.36" fill="#fff"/><polygon points="310.81,662.81 319.14,659.66 319.14,674.66 310.81,677.81" fill="#fff"/><polygon points="500.86,661.75 508.93,665.09 508.93,680.09 500.86,676.75" fill="#fff"/><polygon points="312.07,665.09 310.81,662.81 310.81,677.81 312.07,680.09" fill="#fff"/><polygon points="322.17,665.18 312.07,665.09 312.07,680.09 322.17,680.18" fill="#fff"/><polygon points="323.1,666.53 322.17,665.18 322.17,680.18 323.1,681.53" fill="#fff"/><polygon points="508.93,665.09 507.51,667.34 507.51,682.34 508.93,680.09" fill="#fff"/><polygon points="507.51,667.34 497.41,667.2 497.41,682.2 507.51,682.34" fill="#fff"/><polygon points="497.41,667.2 496.37,668.53 496.37,683.53 497.41,682.2" fill="#fff"/><polygon points="315.66,670.29 323.1,666.53 323.1,681.53 315.66,685.29" fill="#fff"/><polygon points="496.37,668.53 503.53,672.45 503.53,687.45 496.37,683.53" fill="#fff"/><polygon points="327.5,671.77 317.47,672.45 317.47,687.45 327.5,686.77" fill="#fff"/><polygon points="317.47,672.45 315.66,670.29 315.66,685.29 317.47,687.45" fill="#fff"/><polygon points="328.77,673.04 327.5,671.77 327.5,686.77 328.77,688.04" fill="#fff"/><polygon points="503.53,672.45 501.54,674.57 501.54,689.57 503.53,687.45" fill="#fff"/><polygon points="501.54,674.57 491.58,673.66 491.58,688.66 501.54,689.57" fill="#fff"/><polygon points="491.58,673.66 490.22,674.9 490.22,689.9 491.58,688.66" fill="#fff"/><polygon points="322.35,677.33 328.77,673.04 328.77,688.04 322.35,692.33" fill="#fff"/><polygon points="336.02,679.04 334.45,677.89 334.45,692.89 336.02,694.04" fill="#fff"/><polygon points="490.22,674.9 496.31,679.33 496.31,694.33 490.22,689.9" fill="#fff"/><polygon points="334.45,677.89 324.69,679.33 324.69,694.33 334.45,692.89" fill="#fff"/><polygon points="324.69,679.33 322.35,677.33 322.35,692.33 324.69,694.33" fill="#fff"/><polygon points="484.17,679.61 482.51,680.73 482.51,695.73 484.17,694.61" fill="#fff"/><polygon points="496.31,679.33 493.81,681.28 493.81,696.28 496.31,694.33" fill="#fff"/><polygon points="493.81,681.28 484.17,679.61 484.17,694.61 493.81,696.28" fill="#fff"/><polygon points="330.75,683.79 336.02,679.04 336.02,694.04 330.75,698.79" fill="#fff"/><polygon points="344.73,684.44 342.88,683.41 342.88,698.41 344.73,699.44" fill="#fff"/><polygon points="482.51,680.73 487.42,685.59 487.42,700.59 482.51,695.73" fill="#fff"/><polygon points="342.88,683.41 333.58,685.59 333.58,700.59 342.88,698.41" fill="#fff"/><polygon points="333.58,685.59 330.75,683.79 330.75,698.79 333.58,700.59" fill="#fff"/><polygon points="475.32,684.94 473.4,685.92 473.4,700.92 475.32,699.94" fill="#fff"/><polygon points="487.42,685.59 484.45,687.33 484.45,702.33 487.42,700.59" fill="#fff"/><polygon points="484.45,687.33 475.32,684.94 475.32,699.94 484.45,702.33" fill="#fff"/><polygon points="354.72,689.11 352.63,688.24 352.63,703.24 354.72,704.11" fill="#fff"/><polygon points="340.71,689.54 344.73,684.44 344.73,699.44 340.71,704.54" fill="#fff"/><polygon points="465.22,689.54 463.06,690.36 463.06,705.36 465.22,704.54" fill="#fff"/><polygon points="473.4,685.92 477.03,691.11 477.03,706.11 473.4,700.92" fill="#fff"/><polygon points="352.63,688.24 343.97,691.11 343.97,706.11 352.63,703.24" fill="#fff"/><polygon points="343.97,691.11 340.71,689.54 340.71,704.54 343.97,706.11" fill="#fff"/><polygon points="477.03,691.11 473.65,692.6 473.65,707.6 477.03,706.11" fill="#fff"/><polygon points="473.65,692.6 465.22,689.54 465.22,704.54 473.65,707.6" fill="#fff"/><polygon points="365.79,692.98 363.5,692.27 363.5,707.27 365.79,707.98" fill="#fff"/><polygon points="454.05,693.32 451.71,693.97 451.71,708.97 454.05,708.32" fill="#fff"/><polygon points="352.03,694.47 354.72,689.11 354.72,704.11 352.03,709.47" fill="#fff"/><polygon points="463.06,690.36 465.35,695.78 465.35,710.78 463.06,705.36" fill="#fff"/><polygon points="363.5,692.27 355.65,695.78 355.65,710.78 363.5,707.27" fill="#fff"/><polygon points="355.65,695.78 352.03,694.47 352.03,709.47 355.65,710.78" fill="#fff"/><polygon points="377.73,695.96 375.29,695.44 375.29,710.44 377.73,710.96" fill="#fff"/><polygon points="442.03,696.2 439.55,696.67 439.55,711.67 442.03,711.2" fill="#fff"/><polygon points="465.35,695.78 461.62,697 461.62,712 465.35,710.78" fill="#fff"/><polygon points="461.62,697 454.05,693.32 454.05,708.32 461.62,712" fill="#fff"/><polygon points="390.31,697.99 387.76,697.66 387.76,712.66 390.31,712.99" fill="#fff"/><polygon points="429.4,698.14 426.82,698.41 426.82,713.41 429.4,713.14" fill="#fff"/><polygon points="364.48,698.49 365.79,692.98 365.79,707.98 364.48,713.49" fill="#fff"/><polygon points="403.29,699.05 400.67,698.92 400.67,713.92 403.29,714.05" fill="#fff"/><polygon points="416.4,699.1 413.78,699.17 413.78,714.17 416.4,714.1" fill="#fff"/><polygon points="451.71,693.97 452.6,699.5 452.6,714.5 451.71,708.97" fill="#fff"/><polygon points="375.29,695.44 368.4,699.5 368.4,714.5 375.29,710.44" fill="#fff"/><polygon points="368.4,699.5 364.48,698.49 364.48,713.49 368.4,714.5" fill="#fff"/><polygon points="452.6,699.5 448.6,700.43 448.6,715.43 452.6,714.5" fill="#fff"/><polygon points="448.6,700.43 442.03,696.2 442.03,711.2 448.6,715.43" fill="#fff"/><polygon points="377.83,701.51 377.73,695.96 377.73,710.96 377.83,716.51" fill="#fff"/><polygon points="439.55,696.67 439.03,702.22 439.03,717.22 439.55,711.67" fill="#fff"/><polygon points="387.76,697.66 381.97,702.22 381.97,717.22 387.76,712.66" fill="#fff"/><polygon points="381.97,702.22 377.83,701.51 377.83,716.51 381.97,717.22" fill="#fff"/><polygon points="439.03,702.22 434.84,702.83 434.84,717.83 439.03,717.22" fill="#fff"/><polygon points="434.84,702.83 429.4,698.14 429.4,713.14 434.84,717.83" fill="#fff"/><polygon points="391.82,703.49 390.31,697.99 390.31,712.99 391.82,718.49" fill="#fff"/><polygon points="426.82,698.41 424.9,703.87 424.9,718.87 426.82,713.41" fill="#fff"/><polygon points="400.67,698.92 396.1,703.87 396.1,718.87 400.67,713.92" fill="#fff"/><polygon points="396.1,703.87 391.82,703.49 391.82,718.49 396.1,718.87" fill="#fff"/><polygon points="424.9,703.87 420.6,704.15 420.6,719.15 424.9,718.87" fill="#fff"/><polygon points="420.6,704.15 416.4,699.1 416.4,714.1 420.6,719.15" fill="#fff"/><polygon points="406.17,704.38 403.29,699.05 403.29,714.05 406.17,719.38" fill="#fff"/><polygon points="413.78,699.17 410.5,704.42 410.5,719.42 413.78,714.17" fill="#fff"/><polygon points="410.5,704.42 406.17,704.38 406.17,719.38 410.5,719.42" fill="#fff"/><polygon points="504.5,647.5 513.94,649.49 513.69,651.87 503.91,653.26 503.59,654.7 512.43,657.38 511.59,659.72 501.55,660.36 500.86,661.75 508.93,665.09 507.51,667.34 497.41,667.2 496.37,668.53 503.53,672.45 501.54,674.57 491.58,673.66 490.22,674.9 496.31,679.33 493.81,681.28 484.17,679.61 482.51,680.73 487.42,685.59 484.45,687.33 475.32,684.94 473.4,685.92 477.03,691.11 473.65,692.6 465.22,689.54 463.06,690.36 465.35,695.78 461.62,697 454.05,693.32 451.71,693.97 452.6,699.5 448.6,700.43 442.03,696.2 439.55,696.67 439.03,702.22 434.84,702.83 429.4,698.14 426.82,698.41 424.9,703.87 420.6,704.15 416.4,699.1 413.78,699.17 410.5,704.42 406.17,704.38 403.29,699.05 400.67,698.92 396.1,703.87 391.82,703.49 390.31,697.99 387.76,697.66 381.97,702.22 377.83,701.51 377.73,695.96 375.29,695.44 368.4,699.5 364.48,698.49 365.79,692.98 363.5,692.27 355.65,695.78 352.03,694.47 354.72,689.11 352.63,688.24 343.97,691.11 340.71,689.54 344.73,684.44 342.88,683.41 333.58,685.59 330.75,683.79 336.02,679.04 334.45,677.89 324.69,679.33 322.35,677.33 328.77,673.04 327.5,671.77 317.47,672.45 315.66,670.29 323.1,666.53 322.17,665.18 312.07,665.09 310.81,662.81 319.14,659.66 318.55,658.25 308.57,657.38 307.91,655.03 316.95,652.55 316.73,651.11 307.06,649.49 307,647.1 316.58,645.34 316.73,643.89 307.57,641.55 308.11,639.18 318.04,638.17 318.55,636.75 310.07,633.73 311.21,631.43 321.31,631.18 322.17,629.82 314.54,626.18 316.24,623.98 326.3,624.51 327.5,623.23 320.87,619.04 323.11,617 332.94,618.29 334.45,617.11 328.94,612.45 331.68,610.61 341.09,612.64 342.88,611.59 338.6,606.55 341.78,604.93 350.58,607.66 352.63,606.76 349.66,601.45 353.22,600.09 361.25,603.47 363.5,602.73 361.91,597.24 365.78,596.16 372.87,600.12 375.29,599.56 375.1,594.01 379.2,593.24 385.22,597.7 387.76,597.34 388.98,591.82 393.24,591.37 398.07,596.25 400.67,596.08 403.28,590.71 407.61,590.6 411.16,595.8 413.78,595.83 417.72,590.71 422.04,590.93 424.23,596.35 426.82,596.59 432.02,591.82 436.24,592.36 437.04,597.9 439.55,598.33 445.9,594.01 449.94,594.87 449.33,600.42 451.71,601.03 459.09,597.24 462.87,598.4 460.87,603.85 463.06,604.64 471.34,601.45 474.79,602.89 471.42,608.13 473.4,609.08 482.4,606.55 485.45,608.24 480.79,613.18 482.51,614.27 492.06,612.45 494.66,614.36 488.79,618.89 490.22,620.1 500.13,619.04 502.22,621.13 495.27,625.16 496.37,626.47 506.46,626.18 508,628.4 500.1,631.87 500.86,633.25 510.93,633.73 511.89,636.05 503.18,638.88 503.59,640.3 513.43,641.55 513.8,643.93 504.46,646.06" fill="#fff"/><ellipse cx="410.5" cy="647.5" rx="90" ry="49.5" fill="none"/><ellipse cx="410.5" cy="647.5" rx="88.2" ry="48.51" fill="none"/><path d="M491.89,649.85 L491.63,651.75 L491.23,653.64 L490.68,655.52 L489.99,657.39 L489.15,659.24 L488.17,661.07 L487.05,662.88 L485.8,664.65 L484.4,666.4 L482.87,668.11 L481.21,669.79 L479.43,671.42 L477.51,673.01 L475.48,674.55 L473.33,676.05 L471.07,677.49 L464.38,674.18 L466.39,672.9 L468.31,671.57 L470.11,670.19 L471.82,668.78 L473.41,667.32 L474.88,665.84 L476.24,664.31 L477.48,662.76 L478.6,661.18 L479.6,659.57 L480.47,657.95 L481.21,656.3 L481.83,654.64 L482.32,652.96 L482.67,651.28 L482.9,649.59 Z" fill="#fff"/><path d="M465.03,680.81 L462.41,682.06 L459.69,683.24 L456.88,684.36 L453.99,685.41 L451.02,686.39 L447.97,687.31 L444.86,688.15 L441.69,688.91 L438.46,689.6 L435.18,690.22 L431.85,690.76 L428.49,691.22 L425.09,691.6 L421.67,691.9 L418.22,692.12 L414.77,692.26 L414.29,687.32 L417.37,687.2 L420.43,687 L423.48,686.73 L426.5,686.39 L429.49,685.98 L432.45,685.5 L435.37,684.96 L438.24,684.34 L441.07,683.66 L443.84,682.91 L446.54,682.1 L449.19,681.22 L451.76,680.29 L454.26,679.29 L456.68,678.24 L459.01,677.13 Z" fill="#fff"/><path d="M406.23,692.26 L402.78,692.12 L399.33,691.9 L395.91,691.6 L392.51,691.22 L389.15,690.76 L385.82,690.22 L382.54,689.6 L379.31,688.91 L376.14,688.15 L373.03,687.31 L369.98,686.39 L367.01,685.41 L364.12,684.36 L361.31,683.24 L358.59,682.06 L355.97,680.81 L361.99,677.13 L364.32,678.24 L366.74,679.29 L369.24,680.29 L371.81,681.22 L374.46,682.1 L377.16,682.91 L379.93,683.66 L382.76,684.34 L385.63,684.96 L388.55,685.5 L391.51,685.98 L394.5,686.39 L397.52,686.73 L400.57,687 L403.63,687.2 L406.71,687.32 Z" fill="#fff"/><path d="M349.93,677.49 L347.67,676.05 L345.52,674.55 L343.49,673.01 L341.57,671.42 L339.79,669.79 L338.13,668.11 L336.6,666.4 L335.2,664.65 L333.95,662.88 L332.83,661.07 L331.85,659.24 L331.01,657.39 L330.32,655.52 L329.77,653.64 L329.37,651.75 L329.11,649.85 L338.1,649.59 L338.33,651.28 L338.68,652.96 L339.17,654.64 L339.79,656.3 L340.53,657.95 L341.4,659.57 L342.4,661.18 L343.52,662.76 L344.76,664.31 L346.12,665.84 L347.59,667.32 L349.18,668.78 L350.89,670.19 L352.69,671.57 L354.61,672.9 L356.62,674.18 Z" fill="#fff"/><path d="M329.11,645.15 L329.37,643.25 L329.77,641.36 L330.32,639.48 L331.01,637.61 L331.85,635.76 L332.83,633.93 L333.95,632.12 L335.2,630.35 L336.6,628.6 L338.13,626.89 L339.79,625.21 L341.57,623.58 L343.49,621.99 L345.52,620.45 L347.67,618.95 L349.93,617.51 L356.62,620.82 L354.61,622.1 L352.69,623.43 L350.89,624.81 L349.18,626.22 L347.59,627.68 L346.12,629.16 L344.76,630.69 L343.52,632.24 L342.4,633.82 L341.4,635.43 L340.53,637.05 L339.79,638.7 L339.17,640.36 L338.68,642.04 L338.33,643.72 L338.1,645.41 Z" fill="#fff"/><path d="M355.97,614.19 L358.59,612.94 L361.31,611.76 L364.12,610.64 L367.01,609.59 L369.98,608.61 L373.03,607.69 L376.14,606.85 L379.31,606.09 L382.54,605.4 L385.82,604.78 L389.15,604.24 L392.51,603.78 L395.91,603.4 L399.33,603.1 L402.78,602.88 L406.23,602.74 L406.71,607.68 L403.63,607.8 L400.57,608 L397.52,608.27 L394.5,608.61 L391.51,609.02 L388.55,609.5 L385.63,610.04 L382.76,610.66 L379.93,611.34 L377.16,612.09 L374.46,612.9 L371.81,613.78 L369.24,614.71 L366.74,615.71 L364.32,616.76 L361.99,617.87 Z" fill="#fff"/><path d="M414.77,602.74 L418.22,602.88 L421.67,603.1 L425.09,603.4 L428.49,603.78 L431.85,604.24 L435.18,604.78 L438.46,605.4 L441.69,606.09 L444.86,606.85 L447.97,607.69 L451.02,608.61 L453.99,609.59 L456.88,610.64 L459.69,611.76 L462.41,612.94 L465.03,614.19 L459.01,617.87 L456.68,616.76 L454.26,615.71 L451.76,614.71 L449.19,613.78 L446.54,612.9 L443.84,612.09 L441.07,611.34 L438.24,610.66 L435.37,610.04 L432.45,609.5 L429.49,609.02 L426.5,608.61 L423.48,608.27 L420.43,608 L417.37,607.8 L414.29,607.68 Z" fill="#fff"/><path d="M471.07,617.51 L473.33,618.95 L475.48,620.45 L477.51,621.99 L479.43,623.58 L481.21,625.21 L482.87,626.89 L484.4,628.6 L485.8,630.35 L487.05,632.12 L488.17,633.93 L489.15,635.76 L489.99,637.61 L490.68,639.48 L491.23,641.36 L491.63,643.25 L491.89,645.15 L482.9,645.41 L482.67,643.72 L482.32,642.04 L481.83,640.36 L481.21,638.7 L480.47,637.05 L479.6,635.43 L478.6,633.82 L477.48,632.24 L476.24,630.69 L474.88,629.16 L473.41,627.68 L471.82,626.22 L470.11,624.81 L468.31,623.43 L466.39,622.1 L464.38,620.82 Z" fill="#fff"/><path d="M465.03,649.86 L464.82,651.04 L464.53,652.21 L464.15,653.37 L463.69,654.52 L463.15,655.67 L462.52,656.8 L461.82,657.91 L461.04,659.01 L460.18,660.1 L459.24,661.16 L458.23,662.2 L457.14,663.22 L455.98,664.21 L454.75,665.18 L453.46,666.13 L452.09,667.04 L445.71,664.04 L446.86,663.27 L447.96,662.47 L449,661.65 L449.98,660.81 L450.9,659.94 L451.75,659.06 L452.55,658.16 L453.28,657.25 L453.94,656.31 L454.53,655.37 L455.06,654.41 L455.52,653.44 L455.91,652.47 L456.23,651.48 L456.48,650.49 L456.66,649.5 Z" fill="#fff"/><path d="M446.02,670.38 L444.36,671.13 L442.65,671.84 L440.89,672.51 L439.08,673.15 L437.23,673.75 L435.33,674.31 L433.4,674.82 L431.43,675.29 L429.43,675.73 L427.4,676.11 L425.35,676.46 L423.27,676.75 L421.17,677.01 L419.06,677.21 L416.93,677.38 L414.79,677.49 L414.13,672.89 L415.94,672.79 L417.74,672.65 L419.53,672.48 L421.31,672.26 L423.07,672.01 L424.81,671.72 L426.53,671.39 L428.22,671.03 L429.88,670.63 L431.52,670.19 L433.12,669.72 L434.69,669.21 L436.22,668.67 L437.71,668.1 L439.16,667.5 L440.57,666.86 Z" fill="#fff"/><path d="M406.21,677.49 L404.07,677.38 L401.94,677.21 L399.83,677.01 L397.73,676.75 L395.65,676.46 L393.6,676.11 L391.57,675.73 L389.57,675.29 L387.6,674.82 L385.67,674.31 L383.77,673.75 L381.92,673.15 L380.11,672.51 L378.35,671.84 L376.64,671.13 L374.98,670.38 L380.43,666.86 L381.84,667.5 L383.29,668.1 L384.78,668.67 L386.31,669.21 L387.88,669.72 L389.48,670.19 L391.12,670.63 L392.78,671.03 L394.47,671.39 L396.19,671.72 L397.93,672.01 L399.69,672.26 L401.47,672.48 L403.26,672.65 L405.06,672.79 L406.87,672.89 Z" fill="#fff"/><path d="M368.91,667.04 L367.54,666.13 L366.25,665.18 L365.02,664.21 L363.86,663.22 L362.77,662.2 L361.76,661.16 L360.82,660.1 L359.96,659.01 L359.18,657.91 L358.48,656.8 L357.85,655.67 L357.31,654.52 L356.85,653.37 L356.47,652.21 L356.18,651.04 L355.97,649.86 L364.34,649.5 L364.52,650.49 L364.77,651.48 L365.09,652.47 L365.48,653.44 L365.94,654.41 L366.47,655.37 L367.06,656.31 L367.72,657.25 L368.45,658.16 L369.25,659.06 L370.1,659.94 L371.02,660.81 L372,661.65 L373.04,662.47 L374.14,663.27 L375.29,664.04 Z" fill="#fff"/><path d="M355.97,645.14 L356.18,643.96 L356.47,642.79 L356.85,641.63 L357.31,640.48 L357.85,639.33 L358.48,638.2 L359.18,637.09 L359.96,635.99 L360.82,634.9 L361.76,633.84 L362.77,632.8 L363.86,631.78 L365.02,630.79 L366.25,629.82 L367.54,628.87 L368.91,627.96 L375.29,630.96 L374.14,631.73 L373.04,632.53 L372,633.35 L371.02,634.19 L370.1,635.06 L369.25,635.94 L368.45,636.84 L367.72,637.75 L367.06,638.69 L366.47,639.63 L365.94,640.59 L365.48,641.56 L365.09,642.53 L364.77,643.52 L364.52,644.51 L364.34,645.5 Z" fill="#fff"/><path d="M374.98,624.62 L376.64,623.87 L378.35,623.16 L380.11,622.49 L381.92,621.85 L383.77,621.25 L385.67,620.69 L387.6,620.18 L389.57,619.71 L391.57,619.27 L393.6,618.89 L395.65,618.54 L397.73,618.25 L399.83,617.99 L401.94,617.79 L404.07,617.62 L406.21,617.51 L406.87,622.11 L405.06,622.21 L403.26,622.35 L401.47,622.52 L399.69,622.74 L397.93,622.99 L396.19,623.28 L394.47,623.61 L392.78,623.97 L391.12,624.37 L389.48,624.81 L387.88,625.28 L386.31,625.79 L384.78,626.33 L383.29,626.9 L381.84,627.5 L380.43,628.14 Z" fill="#fff"/><path d="M414.79,617.51 L416.93,617.62 L419.06,617.79 L421.17,617.99 L423.27,618.25 L425.35,618.54 L427.4,618.89 L429.43,619.27 L431.43,619.71 L433.4,620.18 L435.33,620.69 L437.23,621.25 L439.08,621.85 L440.89,622.49 L442.65,623.16 L444.36,623.87 L446.02,624.62 L440.57,628.14 L439.16,627.5 L437.71,626.9 L436.22,626.33 L434.69,625.79 L433.12,625.28 L431.52,624.81 L429.88,624.37 L428.22,623.97 L426.53,623.61 L424.81,623.28 L423.07,622.99 L421.31,622.74 L419.53,622.52 L417.74,622.35 L415.94,622.21 L414.13,622.11 Z" fill="#fff"/><path d="M452.09,627.96 L453.46,628.87 L454.75,629.82 L455.98,630.79 L457.14,631.78 L458.23,632.8 L459.24,633.84 L460.18,634.9 L461.04,635.99 L461.82,637.09 L462.52,638.2 L463.15,639.33 L463.69,640.48 L464.15,641.63 L464.53,642.79 L464.82,643.96 L465.03,645.14 L456.66,645.5 L456.48,644.51 L456.23,643.52 L455.91,642.53 L455.52,641.56 L455.06,640.59 L454.53,639.63 L453.94,638.69 L453.28,637.75 L452.55,636.84 L451.75,635.94 L450.9,635.06 L449.98,634.19 L449,633.35 L447.96,632.53 L446.86,631.73 L445.71,630.96 Z" fill="#fff"/><ellipse cx="411" cy="646" rx="26" ry="14.5" fill="#fff"/><ellipse cx="386" cy="661.5" rx="4.5" ry="2.8" fill="#fff"/><ellipse cx="444" cy="652" rx="4.5" ry="2.8" fill="#fff"/></g>
<g stroke="#000" stroke-width="1.1"><path d="M399,634 L399,646 A11.5,6 0 0 0 422,646 L422,634 Z" fill="#fff"/><ellipse cx="410.5" cy="634" rx="11.5" ry="6" fill="#fff"/><path d="M395,566 L395,640 A16,7 0 0 0 427,640 L427,566 Z" fill="#fff"/><path d="M396,575 C399,582 402,588 407,590 C414,590 421,586 427,580" fill="none"/><path d="M399,578 C402,584 405,586 409,586 C415,585 420,582 425,577" fill="none"/><path d="M395,596 C400,601 404,603 409,603 C417,602 422,599 427,596" fill="none"/><path d="M396,600 C402,605 406,607 411,607" fill="none"/><path d="M397,606 C406,609 418,611 427,614" fill="none"/><path d="M395,620 C400,625 404,627 409,627 C417,626 422,624 427,620" fill="none"/><path d="M396,624 C401,628 405,630 410,630 C418,629 423,626 426,623" fill="none"/><path d="M395,632 C402,637 420,638 427,633" fill="none"/><path d="M396,636 C403,641 419,641 426,637" fill="none"/><path d="M387.5,555 L397,549 C408,546 422,546 427,551 L427,568 C424,573 414,575 405,575 L387.5,571 Z" fill="#fff"/><path d="M387.5,555 C396,559 410,561 420,560 C424,559 427,557 427,556" fill="none"/><path d="M398,538 L398,553 A12.5,6 0 0 0 423,553 L423,538 Z" fill="#fff"/><ellipse cx="410.5" cy="538" rx="12.5" ry="6" fill="#fff"/><path d="M389,514 C390,507 399,503 411,503 C423,503 428,509 427,517 L427,540 C424,545 414,547 405,546 L397,545 L388,537 L388,514 Z" fill="#fff"/><path d="M388,522 C396,528 410,531 420,530 C425,529 427,526 427,524" fill="none"/><path d="M388,524 C396,531 410,534 420,533 C425,532 427,529 427,527" fill="none"/><path d="M398,527 C402,532 412,534 420,531" fill="none"/><path d="M397,534 C402,537 413,538 422,535" fill="none"/><path d="M388,537 C398,542 414,545 427,540" fill="none"/><path d="M424.5,505 L424.5,530" fill="none"/><path d="M399,499.5 L399,517 A12,6.5 0 0 0 423,517 L423,499.5 Z" fill="#fff"/><ellipse cx="411" cy="499.5" rx="12" ry="6.5" fill="#fff"/><path d="M399.5,502 A11.5,6 0 0 0 422.5,502" fill="none"/></g>
<g transform="translate(627.5 442.5)"><g stroke="#000" stroke-width="1"><ellipse cx="0" cy="0" rx="14.75" ry="9.5" fill="#fff"/><path d="M-14.6,0.3 A14.6,9.1 0 0 0 14.6,0.3" fill="none" stroke-width="0.8"/><ellipse cx="0" cy="-1.2" rx="14.5" ry="8.4" fill="none"/><ellipse cx="-0.6" cy="-0.8" rx="10.6" ry="5.3" fill="#fff"/><path d="M-1,-1 L-17,-1.5 L-10,-12 Z" fill="#fff" stroke="none"/><path d="M-14.7,-1.2 C-14.5,-3.5 -12.5,-4.8 -11,-3.8 C-10,-3 -10.5,-1.5 -11.2,-1.8" fill="none"/><path d="M-9.2,-8.3 C-8.2,-10.3 -5.5,-10.2 -5.2,-8.5 C-5,-7.2 -6.2,-6.8 -6.8,-7.3" fill="none"/></g></g>
<g stroke="#000" stroke-width="1.1"><path d="M617,466 L617,537 A10.75,4 0 0 0 638.5,537 L638.5,466 A10.75,4 0 0 0 617,466 Z" fill="#fff"/><ellipse cx="627.75" cy="466" rx="10.75" ry="4" fill="#fff" /><path d="M618,468 A9.75,3.5 0 0 0 637.5,468" fill="none"/><path d="M617,531 A10.75,4 0 0 0 638.5,531" fill="none"/></g>
<g stroke="#000" stroke-width="1.1"><ellipse cx="667" cy="403.5" rx="27.4" ry="21.8" fill="#fff" /><ellipse cx="667" cy="406" rx="24" ry="18" fill="#fff" /><path d="M654,410.5 C660,411.5 661.5,415.5 661.5,419.5 L661.5,471.5 A5.5,4.5 0 0 0 672.5,471.5 L672.5,419.5 C672.5,415.5 674,411.5 680,410.5" fill="#fff"/><path d="M659,406.5 C664,403.5 670,403.5 675,406.5" fill="none"/><ellipse cx="667" cy="471.5" rx="5.5" ry="4.5" fill="#fff" /><path d="M661.5,467 A5.5,3 0 0 0 672.5,467" fill="none"/><path d="M661.5,465 A5.5,3 0 0 0 672.5,465" fill="none"/></g>
<g stroke="#000" stroke-width="1.1"><path d="M657,497.5 C657,489 662,487 667,487 C672,487 677,489 677,497.5 C677,505 672,508 667,508 C662,508 657,505 657,497.5 Z" fill="#fff"/><path d="M658,491 C662,487.8 672,487.8 676,491" fill="none" stroke-width="1.8"/><path d="M657.5,496 A9.5,6 0 0 1 676.5,496" fill="none"/><ellipse cx="667" cy="499.5" rx="7" ry="6.5" fill="none" /><ellipse cx="667" cy="501" rx="4.2" ry="4" fill="#fff" /></g>
<g stroke="#000" stroke-width="1.1"><path fill="#fff" fill-rule="evenodd" d="M646,534.5 A21,17.5 0 1 0 688,534.5 A21,17.5 0 1 0 646,534.5 Z M657,534.5 A10,8.5 0 1 0 677,534.5 A10,8.5 0 1 0 657,534.5 Z"/><ellipse cx="667" cy="534.5" rx="18" ry="14.7" fill="none" /></g>
<path d="M679.1,564.2 L678.78,565.58 L677.85,566.89 L676.35,568.07 L674.36,569.05 L671.97,569.79 L669.3,570.24 L666.5,570.4 L663.7,570.24 L661.03,569.79 L658.64,569.05 L656.65,568.07 L655.15,566.89 L654.22,565.58 L653.9,564.2 L654.22,562.82 L655.15,561.51 L656.65,560.33 L658.64,559.35 L661.03,558.61 L663.7,558.16 L666.5,558 L669.3,558.16 L671.97,558.61 L674.36,559.35 L676.35,560.33 L677.85,561.51 L678.78,562.82 L679.1,564.2" fill="none" stroke="#000" stroke-width="3.1"/><path d="M679.1,564.2 L678.78,565.58 L677.85,566.89 L676.35,568.07 L674.36,569.05 L671.97,569.79 L669.3,570.24 L666.5,570.4 L663.7,570.24 L661.03,569.79 L658.64,569.05 L656.65,568.07 L655.15,566.89 L654.22,565.58 L653.9,564.2 L654.22,562.82 L655.15,561.51 L656.65,560.33 L658.64,559.35 L661.03,558.61 L663.7,558.16 L666.5,558 L669.3,558.16 L671.97,558.61 L674.36,559.35 L676.35,560.33 L677.85,561.51 L678.78,562.82 L679.1,564.2" fill="none" stroke="#fff" stroke-width="1.2"/><path d="M654.09,569.91 L653.94,568.37 L654.56,566.86 L655.92,565.47 L657.93,564.29 L660.47,563.39 L663.39,562.83 L666.5,562.63 L669.61,562.83 L672.53,563.39 L675.07,564.29 L677.08,565.47 L678.44,566.86 L679.06,568.37 L678.91,569.91" fill="none" stroke="#000" stroke-width="3.1"/><path d="M654.09,569.91 L653.94,568.37 L654.56,566.86 L655.92,565.47 L657.93,564.29 L660.47,563.39 L663.39,562.83 L666.5,562.63 L669.61,562.83 L672.53,563.39 L675.07,564.29 L677.08,565.47 L678.44,566.86 L679.06,568.37 L678.91,569.91" fill="none" stroke="#fff" stroke-width="1.2"/><path d="M654.09,574.54 L653.94,573 L654.56,571.49 L655.92,570.1 L657.93,568.92 L660.47,568.02 L663.39,567.46 L666.5,567.27 L669.61,567.46 L672.53,568.02 L675.07,568.92 L677.08,570.1 L678.44,571.49 L679.06,573 L678.91,574.54" fill="none" stroke="#000" stroke-width="3.1"/><path d="M654.09,574.54 L653.94,573 L654.56,571.49 L655.92,570.1 L657.93,568.92 L660.47,568.02 L663.39,567.46 L666.5,567.27 L669.61,567.46 L672.53,568.02 L675.07,568.92 L677.08,570.1 L678.44,571.49 L679.06,573 L678.91,574.54" fill="none" stroke="#fff" stroke-width="1.2"/><path d="M654.09,579.18 L653.94,577.64 L654.56,576.13 L655.92,574.74 L657.93,573.56 L660.47,572.66 L663.39,572.09 L666.5,571.9 L669.61,572.09 L672.53,572.66 L675.07,573.56 L677.08,574.74 L678.44,576.13 L679.06,577.64 L678.91,579.18" fill="none" stroke="#000" stroke-width="3.1"/><path d="M654.09,579.18 L653.94,577.64 L654.56,576.13 L655.92,574.74 L657.93,573.56 L660.47,572.66 L663.39,572.09 L666.5,571.9 L669.61,572.09 L672.53,572.66 L675.07,573.56 L677.08,574.74 L678.44,576.13 L679.06,577.64 L678.91,579.18" fill="none" stroke="#fff" stroke-width="1.2"/><path d="M654.09,583.81 L653.94,582.27 L654.56,580.76 L655.92,579.37 L657.93,578.19 L660.47,577.29 L663.39,576.73 L666.5,576.53 L669.61,576.73 L672.53,577.29 L675.07,578.19 L677.08,579.37 L678.44,580.76 L679.06,582.27 L678.91,583.81" fill="none" stroke="#000" stroke-width="3.1"/><path d="M654.09,583.81 L653.94,582.27 L654.56,580.76 L655.92,579.37 L657.93,578.19 L660.47,577.29 L663.39,576.73 L666.5,576.53 L669.61,576.73 L672.53,577.29 L675.07,578.19 L677.08,579.37 L678.44,580.76 L679.06,582.27 L678.91,583.81" fill="none" stroke="#fff" stroke-width="1.2"/><path d="M654.09,588.44 L653.94,586.9 L654.56,585.39 L655.92,584 L657.93,582.82 L660.47,581.92 L663.39,581.36 L666.5,581.17 L669.61,581.36 L672.53,581.92 L675.07,582.82 L677.08,584 L678.44,585.39 L679.06,586.9 L678.91,588.44" fill="none" stroke="#000" stroke-width="3.1"/><path d="M654.09,588.44 L653.94,586.9 L654.56,585.39 L655.92,584 L657.93,582.82 L660.47,581.92 L663.39,581.36 L666.5,581.17 L669.61,581.36 L672.53,581.92 L675.07,582.82 L677.08,584 L678.44,585.39 L679.06,586.9 L678.91,588.44" fill="none" stroke="#fff" stroke-width="1.2"/><path d="M654.09,593.08 L653.94,591.54 L654.56,590.03 L655.92,588.64 L657.93,587.46 L660.47,586.56 L663.39,585.99 L666.5,585.8 L669.61,585.99 L672.53,586.56 L675.07,587.46 L677.08,588.64 L678.44,590.03 L679.06,591.54 L678.91,593.08" fill="none" stroke="#000" stroke-width="3.1"/><path d="M654.09,593.08 L653.94,591.54 L654.56,590.03 L655.92,588.64 L657.93,587.46 L660.47,586.56 L663.39,585.99 L666.5,585.8 L669.61,585.99 L672.53,586.56 L675.07,587.46 L677.08,588.64 L678.44,590.03 L679.06,591.54 L678.91,593.08" fill="none" stroke="#fff" stroke-width="1.2"/><path d="M654.09,597.71 L653.94,596.17 L654.56,594.66 L655.92,593.27 L657.93,592.09 L660.47,591.19 L663.39,590.63 L666.5,590.43 L669.61,590.63 L672.53,591.19 L675.07,592.09 L677.08,593.27 L678.44,594.66 L679.06,596.17 L678.91,597.71" fill="none" stroke="#000" stroke-width="3.1"/><path d="M654.09,597.71 L653.94,596.17 L654.56,594.66 L655.92,593.27 L657.93,592.09 L660.47,591.19 L663.39,590.63 L666.5,590.43 L669.61,590.63 L672.53,591.19 L675.07,592.09 L677.08,593.27 L678.44,594.66 L679.06,596.17 L678.91,597.71" fill="none" stroke="#fff" stroke-width="1.2"/><path d="M654.09,602.34 L653.94,600.8 L654.56,599.29 L655.92,597.9 L657.93,596.72 L660.47,595.82 L663.39,595.26 L666.5,595.07 L669.61,595.26 L672.53,595.82 L675.07,596.72 L677.08,597.9 L678.44,599.29 L679.06,600.8 L678.91,602.34" fill="none" stroke="#000" stroke-width="3.1"/><path d="M654.09,602.34 L653.94,600.8 L654.56,599.29 L655.92,597.9 L657.93,596.72 L660.47,595.82 L663.39,595.26 L666.5,595.07 L669.61,595.26 L672.53,595.82 L675.07,596.72 L677.08,597.9 L678.44,599.29 L679.06,600.8 L678.91,602.34" fill="none" stroke="#fff" stroke-width="1.2"/><path d="M654.09,606.98 L653.94,605.44 L654.56,603.93 L655.92,602.54 L657.93,601.36 L660.47,600.46 L663.39,599.89 L666.5,599.7 L669.61,599.89 L672.53,600.46 L675.07,601.36 L677.08,602.54 L678.44,603.93 L679.06,605.44 L678.91,606.98" fill="none" stroke="#000" stroke-width="3.1"/><path d="M654.09,606.98 L653.94,605.44 L654.56,603.93 L655.92,602.54 L657.93,601.36 L660.47,600.46 L663.39,599.89 L666.5,599.7 L669.61,599.89 L672.53,600.46 L675.07,601.36 L677.08,602.54 L678.44,603.93 L679.06,605.44 L678.91,606.98" fill="none" stroke="#fff" stroke-width="1.2"/><path d="M654.09,611.61 L653.94,610.07 L654.56,608.56 L655.92,607.17 L657.93,605.99 L660.47,605.09 L663.39,604.53 L666.5,604.33 L669.61,604.53 L672.53,605.09 L675.07,605.99 L677.08,607.17 L678.44,608.56 L679.06,610.07 L678.91,611.61" fill="none" stroke="#000" stroke-width="3.1"/><path d="M654.09,611.61 L653.94,610.07 L654.56,608.56 L655.92,607.17 L657.93,605.99 L660.47,605.09 L663.39,604.53 L666.5,604.33 L669.61,604.53 L672.53,605.09 L675.07,605.99 L677.08,607.17 L678.44,608.56 L679.06,610.07 L678.91,611.61" fill="none" stroke="#fff" stroke-width="1.2"/><path d="M654.09,616.24 L653.94,614.7 L654.56,613.19 L655.92,611.8 L657.93,610.62 L660.47,609.72 L663.39,609.16 L666.5,608.97 L669.61,609.16 L672.53,609.72 L675.07,610.62 L677.08,611.8 L678.44,613.19 L679.06,614.7 L678.91,616.24" fill="none" stroke="#000" stroke-width="3.1"/><path d="M654.09,616.24 L653.94,614.7 L654.56,613.19 L655.92,611.8 L657.93,610.62 L660.47,609.72 L663.39,609.16 L666.5,608.97 L669.61,609.16 L672.53,609.72 L675.07,610.62 L677.08,611.8 L678.44,613.19 L679.06,614.7 L678.91,616.24" fill="none" stroke="#fff" stroke-width="1.2"/><path d="M679.1,616.6 L678.78,617.98 L677.85,619.29 L676.35,620.47 L674.36,621.45 L671.97,622.19 L669.3,622.64 L666.5,622.8 L663.7,622.64 L661.03,622.19 L658.64,621.45 L656.65,620.47 L655.15,619.29 L654.22,617.98 L653.9,616.6 L654.22,615.22 L655.15,613.91 L656.65,612.73 L658.64,611.75 L661.03,611.01 L663.7,610.56 L666.5,610.4 L669.3,610.56 L671.97,611.01 L674.36,611.75 L676.35,612.73 L677.85,613.91 L678.78,615.22 L679.1,616.6" fill="none" stroke="#000" stroke-width="3.1"/><path d="M679.1,616.6 L678.78,617.98 L677.85,619.29 L676.35,620.47 L674.36,621.45 L671.97,622.19 L669.3,622.64 L666.5,622.8 L663.7,622.64 L661.03,622.19 L658.64,621.45 L656.65,620.47 L655.15,619.29 L654.22,617.98 L653.9,616.6 L654.22,615.22 L655.15,613.91 L656.65,612.73 L658.64,611.75 L661.03,611.01 L663.7,610.56 L666.5,610.4 L669.3,610.56 L671.97,611.01 L674.36,611.75 L676.35,612.73 L677.85,613.91 L678.78,615.22 L679.1,616.6" fill="none" stroke="#fff" stroke-width="1.2"/><path d="M679.1,619.8 L678.78,621.18 L677.85,622.49 L676.35,623.67 L674.36,624.65 L671.97,625.39 L669.3,625.84 L666.5,626 L663.7,625.84 L661.03,625.39 L658.64,624.65 L656.65,623.67 L655.15,622.49 L654.22,621.18 L653.9,619.8 L654.22,618.42 L655.15,617.11 L656.65,615.93 L658.64,614.95 L661.03,614.21 L663.7,613.76 L666.5,613.6 L669.3,613.76 L671.97,614.21 L674.36,614.95 L676.35,615.93 L677.85,617.11 L678.78,618.42 L679.1,619.8" fill="none" stroke="#000" stroke-width="3.1"/><path d="M679.1,619.8 L678.78,621.18 L677.85,622.49 L676.35,623.67 L674.36,624.65 L671.97,625.39 L669.3,625.84 L666.5,626 L663.7,625.84 L661.03,625.39 L658.64,624.65 L656.65,623.67 L655.15,622.49 L654.22,621.18 L653.9,619.8 L654.22,618.42 L655.15,617.11 L656.65,615.93 L658.64,614.95 L661.03,614.21 L663.7,613.76 L666.5,613.6 L669.3,613.76 L671.97,614.21 L674.36,614.95 L676.35,615.93 L677.85,617.11 L678.78,618.42 L679.1,619.8" fill="none" stroke="#fff" stroke-width="1.2"/>
<g stroke="#000" stroke-width="1.1"><ellipse cx="717.5" cy="571" rx="27.4" ry="21.8" fill="#fff" /><ellipse cx="717.5" cy="573.5" rx="24" ry="18" fill="#fff" /><path d="M704.5,578 C710.5,579 712,583 712,587 L712,638.5 A5.5,4.5 0 0 0 723,638.5 L723,587 C723,583 724.5,579 730.5,578" fill="#fff"/><path d="M709.5,574 C714.5,571 720.5,571 725.5,574" fill="none"/><ellipse cx="717.5" cy="638.5" rx="5.5" ry="4.5" fill="#fff" /><path d="M712,634 A5.5,3 0 0 0 723,634" fill="none"/><path d="M712,632 A5.5,3 0 0 0 723,632" fill="none"/></g>
<g stroke="#000" stroke-width="1.1"><ellipse cx="667" cy="653" rx="21" ry="17.5" fill="#fff" /><path d="M652,655 C653,669 681,669 682,654 C681,648 677,645 674,644" fill="none"/><path d="M660,644 C656,646 654,650 654.5,657" fill="none"/><ellipse cx="667" cy="648.5" rx="9" ry="6.5" fill="#fff" /></g>
<g stroke="#000" stroke-width="1.1"><path d="M707,664.5 C707,656 712,654 717,654 C722,654 727,656 727,664.5 C727,672 722,675 717,675 C712,675 707,672 707,664.5 Z" fill="#fff"/><path d="M708,658 C712,654.8 722,654.8 726,658" fill="none" stroke-width="1.8"/><path d="M707.5,663 A9.5,6 0 0 1 726.5,663" fill="none"/><ellipse cx="717" cy="666.5" rx="7" ry="6.5" fill="none" /><ellipse cx="717" cy="668" rx="4.2" ry="4" fill="#fff" /></g>
<g stroke="#000" stroke-width="1.1"><path d="M660.5,691 C659.5,681 663.5,678 667.5,678 C671.5,678 675.5,681 674.5,691 L674.5,692 A7,4 0 0 1 660.5,692 Z" fill="#fff"/><path d="M660,683 A7.5,3.5 0 0 1 675,683" fill="none" stroke-width="0.9"/><ellipse cx="667.5" cy="691.5" rx="6.5" ry="4" fill="none" /></g>
<g transform="translate(0 0)" stroke="#000" stroke-width="1.1"><path d="M588.3,734.7 C589,731.5 591,729.2 591,729.2 C593,728 595.5,727.5 597.6,727.5 C600,727.5 602,729.75 603,729.75 C605,729.5 607,729 608.6,728.6 C610.5,728 612,727 613,725.9 L642.7,727 C643.5,728.5 644.5,729.5 646,730.3 C649,731 652,731 654.8,730.9 C657.5,730.5 659.5,729 661.4,728.1 C664,727.6 666.5,727.5 669.1,727.5 C671.5,728.5 673.5,729.5 674.6,731.4 C676,733.5 676.8,736 676.8,738 C676.8,741 675.8,744 674.6,745.7 C672.5,747.5 670.5,748.5 668,748.5 C665.5,748.5 663,747.8 661.4,746.8 C659.5,745.5 658,744 657,742.4 C650,743.5 642,744 636,744.6 C633,746.5 630.5,749 628.4,749 C625,749 622,748 619.6,746.8 C612,745 605,743.5 599.3,742.4 C596,742.5 593,743 590,743.5 C589,741.5 588.5,740 588.3,738 Z" fill="#fff"/><path d="M603,734.7 L616.3,735.2 M603,738 L617.4,738.5 M637.8,734.7 L661.4,734.2 M590,738.5 C600,740 612,742 628,745 C640,743 650,740.5 659,737" fill="none" stroke-width="0.9"/><path d="M622,747.5 C626,749.5 631,749.5 635,746" fill="none" stroke-width="2"/><ellipse cx="666.5" cy="740.8" rx="7.2" ry="6.8" fill="none" /><ellipse cx="666.9" cy="740.8" rx="4.4" ry="3.6" fill="#fff" /><path d="M613.5,723.7 L613.5,731 C616,736 622,738.5 628.1,738.5 C634,738.5 640,736 642.7,731 L642.7,723.7 Z" fill="#fff"/><ellipse cx="628.1" cy="723.75" rx="14.6" ry="8.25" fill="#fff" /><ellipse cx="628.1" cy="724.5" rx="11.5" ry="5.9" fill="#fff" /></g>
<line x1="628" y1="714" x2="628" y2="726" stroke="#000" stroke-width="1.1"/>
<g stroke="#000" stroke-width="1.1"><path d="M661.5,767 L670.5,767 L670.5,785 L661.5,785 Z" fill="#fff"/><path d="M663.5,785 L668.5,785 L668.5,789 L663.5,789 Z" fill="#fff"/><path d="M661.5,767 A4.5,1.5 0 0 0 670.5,767" fill="none" stroke-width="0.9"/><path d="M661.5,770 A4.5,1.5 0 0 0 670.5,770" fill="none" stroke-width="0.9"/><path d="M661.5,773 A4.5,1.5 0 0 0 670.5,773" fill="none" stroke-width="0.9"/><path d="M661.5,776 A4.5,1.5 0 0 0 670.5,776" fill="none" stroke-width="0.9"/><path d="M661.5,779 A4.5,1.5 0 0 0 670.5,779" fill="none" stroke-width="0.9"/><path d="M661.5,782 A4.5,1.5 0 0 0 670.5,782" fill="none" stroke-width="0.9"/><path d="M661.5,785 A4.5,1.5 0 0 0 670.5,785" fill="none" stroke-width="0.9"/></g>
<g stroke="#000" stroke-width="1.1"><path d="M658.7,805 L658.7,809 L675.3,809 L675.3,805 Z" fill="#fff"/><path d="M658.7,805 L658.7,809 A8.3,5 0 0 0 675.3,809 L675.3,805" fill="#fff"/><polygon points="675.3,805 671.15,811.5 662.85,811.5 658.7,805 662.85,798.5 671.15,798.5" fill="#fff"/><ellipse cx="667" cy="805" rx="5.5" ry="5" fill="none" /><ellipse cx="667" cy="805.5" rx="3.5" ry="3.2" fill="#fff" /></g>
<g stroke="#000" stroke-width="1.1"><path fill="#fff" fill-rule="evenodd" d="M697,698 A21.5,17.5 0 1 0 740,698 A21.5,17.5 0 1 0 697,698 Z M708.5,698 A10,8.5 0 1 0 728.5,698 A10,8.5 0 1 0 708.5,698 Z"/><ellipse cx="718.5" cy="698" rx="18.5" ry="14.7" fill="none" /></g>
<path d="M731.1,727.2 L730.78,728.58 L729.85,729.89 L728.35,731.07 L726.36,732.05 L723.97,732.79 L721.3,733.24 L718.5,733.4 L715.7,733.24 L713.03,732.79 L710.64,732.05 L708.65,731.07 L707.15,729.89 L706.22,728.58 L705.9,727.2 L706.22,725.82 L707.15,724.51 L708.65,723.33 L710.64,722.35 L713.03,721.61 L715.7,721.16 L718.5,721 L721.3,721.16 L723.97,721.61 L726.36,722.35 L728.35,723.33 L729.85,724.51 L730.78,725.82 L731.1,727.2" fill="none" stroke="#000" stroke-width="3.1"/><path d="M731.1,727.2 L730.78,728.58 L729.85,729.89 L728.35,731.07 L726.36,732.05 L723.97,732.79 L721.3,733.24 L718.5,733.4 L715.7,733.24 L713.03,732.79 L710.64,732.05 L708.65,731.07 L707.15,729.89 L706.22,728.58 L705.9,727.2 L706.22,725.82 L707.15,724.51 L708.65,723.33 L710.64,722.35 L713.03,721.61 L715.7,721.16 L718.5,721 L721.3,721.16 L723.97,721.61 L726.36,722.35 L728.35,723.33 L729.85,724.51 L730.78,725.82 L731.1,727.2" fill="none" stroke="#fff" stroke-width="1.2"/><path d="M706.09,732.91 L705.94,731.37 L706.56,729.86 L707.92,728.47 L709.93,727.29 L712.47,726.39 L715.39,725.83 L718.5,725.63 L721.61,725.83 L724.53,726.39 L727.07,727.29 L729.08,728.47 L730.44,729.86 L731.06,731.37 L730.91,732.91" fill="none" stroke="#000" stroke-width="3.1"/><path d="M706.09,732.91 L705.94,731.37 L706.56,729.86 L707.92,728.47 L709.93,727.29 L712.47,726.39 L715.39,725.83 L718.5,725.63 L721.61,725.83 L724.53,726.39 L727.07,727.29 L729.08,728.47 L730.44,729.86 L731.06,731.37 L730.91,732.91" fill="none" stroke="#fff" stroke-width="1.2"/><path d="M706.09,737.54 L705.94,736 L706.56,734.49 L707.92,733.1 L709.93,731.92 L712.47,731.02 L715.39,730.46 L718.5,730.27 L721.61,730.46 L724.53,731.02 L727.07,731.92 L729.08,733.1 L730.44,734.49 L731.06,736 L730.91,737.54" fill="none" stroke="#000" stroke-width="3.1"/><path d="M706.09,737.54 L705.94,736 L706.56,734.49 L707.92,733.1 L709.93,731.92 L712.47,731.02 L715.39,730.46 L718.5,730.27 L721.61,730.46 L724.53,731.02 L727.07,731.92 L729.08,733.1 L730.44,734.49 L731.06,736 L730.91,737.54" fill="none" stroke="#fff" stroke-width="1.2"/><path d="M706.09,742.18 L705.94,740.64 L706.56,739.13 L707.92,737.74 L709.93,736.56 L712.47,735.66 L715.39,735.09 L718.5,734.9 L721.61,735.09 L724.53,735.66 L727.07,736.56 L729.08,737.74 L730.44,739.13 L731.06,740.64 L730.91,742.18" fill="none" stroke="#000" stroke-width="3.1"/><path d="M706.09,742.18 L705.94,740.64 L706.56,739.13 L707.92,737.74 L709.93,736.56 L712.47,735.66 L715.39,735.09 L718.5,734.9 L721.61,735.09 L724.53,735.66 L727.07,736.56 L729.08,737.74 L730.44,739.13 L731.06,740.64 L730.91,742.18" fill="none" stroke="#fff" stroke-width="1.2"/><path d="M706.09,746.81 L705.94,745.27 L706.56,743.76 L707.92,742.37 L709.93,741.19 L712.47,740.29 L715.39,739.73 L718.5,739.53 L721.61,739.73 L724.53,740.29 L727.07,741.19 L729.08,742.37 L730.44,743.76 L731.06,745.27 L730.91,746.81" fill="none" stroke="#000" stroke-width="3.1"/><path d="M706.09,746.81 L705.94,745.27 L706.56,743.76 L707.92,742.37 L709.93,741.19 L712.47,740.29 L715.39,739.73 L718.5,739.53 L721.61,739.73 L724.53,740.29 L727.07,741.19 L729.08,742.37 L730.44,743.76 L731.06,745.27 L730.91,746.81" fill="none" stroke="#fff" stroke-width="1.2"/><path d="M706.09,751.44 L705.94,749.9 L706.56,748.39 L707.92,747 L709.93,745.82 L712.47,744.92 L715.39,744.36 L718.5,744.17 L721.61,744.36 L724.53,744.92 L727.07,745.82 L729.08,747 L730.44,748.39 L731.06,749.9 L730.91,751.44" fill="none" stroke="#000" stroke-width="3.1"/><path d="M706.09,751.44 L705.94,749.9 L706.56,748.39 L707.92,747 L709.93,745.82 L712.47,744.92 L715.39,744.36 L718.5,744.17 L721.61,744.36 L724.53,744.92 L727.07,745.82 L729.08,747 L730.44,748.39 L731.06,749.9 L730.91,751.44" fill="none" stroke="#fff" stroke-width="1.2"/><path d="M706.09,756.08 L705.94,754.54 L706.56,753.03 L707.92,751.64 L709.93,750.46 L712.47,749.56 L715.39,748.99 L718.5,748.8 L721.61,748.99 L724.53,749.56 L727.07,750.46 L729.08,751.64 L730.44,753.03 L731.06,754.54 L730.91,756.08" fill="none" stroke="#000" stroke-width="3.1"/><path d="M706.09,756.08 L705.94,754.54 L706.56,753.03 L707.92,751.64 L709.93,750.46 L712.47,749.56 L715.39,748.99 L718.5,748.8 L721.61,748.99 L724.53,749.56 L727.07,750.46 L729.08,751.64 L730.44,753.03 L731.06,754.54 L730.91,756.08" fill="none" stroke="#fff" stroke-width="1.2"/><path d="M706.09,760.71 L705.94,759.17 L706.56,757.66 L707.92,756.27 L709.93,755.09 L712.47,754.19 L715.39,753.63 L718.5,753.43 L721.61,753.63 L724.53,754.19 L727.07,755.09 L729.08,756.27 L730.44,757.66 L731.06,759.17 L730.91,760.71" fill="none" stroke="#000" stroke-width="3.1"/><path d="M706.09,760.71 L705.94,759.17 L706.56,757.66 L707.92,756.27 L709.93,755.09 L712.47,754.19 L715.39,753.63 L718.5,753.43 L721.61,753.63 L724.53,754.19 L727.07,755.09 L729.08,756.27 L730.44,757.66 L731.06,759.17 L730.91,760.71" fill="none" stroke="#fff" stroke-width="1.2"/><path d="M706.09,765.34 L705.94,763.8 L706.56,762.29 L707.92,760.9 L709.93,759.72 L712.47,758.82 L715.39,758.26 L718.5,758.07 L721.61,758.26 L724.53,758.82 L727.07,759.72 L729.08,760.9 L730.44,762.29 L731.06,763.8 L730.91,765.34" fill="none" stroke="#000" stroke-width="3.1"/><path d="M706.09,765.34 L705.94,763.8 L706.56,762.29 L707.92,760.9 L709.93,759.72 L712.47,758.82 L715.39,758.26 L718.5,758.07 L721.61,758.26 L724.53,758.82 L727.07,759.72 L729.08,760.9 L730.44,762.29 L731.06,763.8 L730.91,765.34" fill="none" stroke="#fff" stroke-width="1.2"/><path d="M706.09,769.98 L705.94,768.44 L706.56,766.93 L707.92,765.54 L709.93,764.36 L712.47,763.46 L715.39,762.89 L718.5,762.7 L721.61,762.89 L724.53,763.46 L727.07,764.36 L729.08,765.54 L730.44,766.93 L731.06,768.44 L730.91,769.98" fill="none" stroke="#000" stroke-width="3.1"/><path d="M706.09,769.98 L705.94,768.44 L706.56,766.93 L707.92,765.54 L709.93,764.36 L712.47,763.46 L715.39,762.89 L718.5,762.7 L721.61,762.89 L724.53,763.46 L727.07,764.36 L729.08,765.54 L730.44,766.93 L731.06,768.44 L730.91,769.98" fill="none" stroke="#fff" stroke-width="1.2"/><path d="M706.09,774.61 L705.94,773.07 L706.56,771.56 L707.92,770.17 L709.93,768.99 L712.47,768.09 L715.39,767.53 L718.5,767.33 L721.61,767.53 L724.53,768.09 L727.07,768.99 L729.08,770.17 L730.44,771.56 L731.06,773.07 L730.91,774.61" fill="none" stroke="#000" stroke-width="3.1"/><path d="M706.09,774.61 L705.94,773.07 L706.56,771.56 L707.92,770.17 L709.93,768.99 L712.47,768.09 L715.39,767.53 L718.5,767.33 L721.61,767.53 L724.53,768.09 L727.07,768.99 L729.08,770.17 L730.44,771.56 L731.06,773.07 L730.91,774.61" fill="none" stroke="#fff" stroke-width="1.2"/><path d="M706.09,779.24 L705.94,777.7 L706.56,776.19 L707.92,774.8 L709.93,773.62 L712.47,772.72 L715.39,772.16 L718.5,771.97 L721.61,772.16 L724.53,772.72 L727.07,773.62 L729.08,774.8 L730.44,776.19 L731.06,777.7 L730.91,779.24" fill="none" stroke="#000" stroke-width="3.1"/><path d="M706.09,779.24 L705.94,777.7 L706.56,776.19 L707.92,774.8 L709.93,773.62 L712.47,772.72 L715.39,772.16 L718.5,771.97 L721.61,772.16 L724.53,772.72 L727.07,773.62 L729.08,774.8 L730.44,776.19 L731.06,777.7 L730.91,779.24" fill="none" stroke="#fff" stroke-width="1.2"/><path d="M731.1,779.6 L730.78,780.98 L729.85,782.29 L728.35,783.47 L726.36,784.45 L723.97,785.19 L721.3,785.64 L718.5,785.8 L715.7,785.64 L713.03,785.19 L710.64,784.45 L708.65,783.47 L707.15,782.29 L706.22,780.98 L705.9,779.6 L706.22,778.22 L707.15,776.91 L708.65,775.73 L710.64,774.75 L713.03,774.01 L715.7,773.56 L718.5,773.4 L721.3,773.56 L723.97,774.01 L726.36,774.75 L728.35,775.73 L729.85,776.91 L730.78,778.22 L731.1,779.6" fill="none" stroke="#000" stroke-width="3.1"/><path d="M731.1,779.6 L730.78,780.98 L729.85,782.29 L728.35,783.47 L726.36,784.45 L723.97,785.19 L721.3,785.64 L718.5,785.8 L715.7,785.64 L713.03,785.19 L710.64,784.45 L708.65,783.47 L707.15,782.29 L706.22,780.98 L705.9,779.6 L706.22,778.22 L707.15,776.91 L708.65,775.73 L710.64,774.75 L713.03,774.01 L715.7,773.56 L718.5,773.4 L721.3,773.56 L723.97,774.01 L726.36,774.75 L728.35,775.73 L729.85,776.91 L730.78,778.22 L731.1,779.6" fill="none" stroke="#fff" stroke-width="1.2"/><path d="M731.1,782.8 L730.78,784.18 L729.85,785.49 L728.35,786.67 L726.36,787.65 L723.97,788.39 L721.3,788.84 L718.5,789 L715.7,788.84 L713.03,788.39 L710.64,787.65 L708.65,786.67 L707.15,785.49 L706.22,784.18 L705.9,782.8 L706.22,781.42 L707.15,780.11 L708.65,778.93 L710.64,777.95 L713.03,777.21 L715.7,776.76 L718.5,776.6 L721.3,776.76 L723.97,777.21 L726.36,777.95 L728.35,778.93 L729.85,780.11 L730.78,781.42 L731.1,782.8" fill="none" stroke="#000" stroke-width="3.1"/><path d="M731.1,782.8 L730.78,784.18 L729.85,785.49 L728.35,786.67 L726.36,787.65 L723.97,788.39 L721.3,788.84 L718.5,789 L715.7,788.84 L713.03,788.39 L710.64,787.65 L708.65,786.67 L707.15,785.49 L706.22,784.18 L705.9,782.8 L706.22,781.42 L707.15,780.11 L708.65,778.93 L710.64,777.95 L713.03,777.21 L715.7,776.76 L718.5,776.6 L721.3,776.76 L723.97,777.21 L726.36,777.95 L728.35,778.93 L729.85,780.11 L730.78,781.42 L731.1,782.8" fill="none" stroke="#fff" stroke-width="1.2"/>
<g stroke="#000" stroke-width="1.1"><ellipse cx="718.5" cy="812" rx="21" ry="17.5" fill="#fff" /><path d="M703.5,814 C704.5,828 732.5,828 733.5,813 C732.5,807 728.5,804 725.5,803" fill="none"/><path d="M711.5,803 C707.5,805 705.5,809 706,816" fill="none"/><ellipse cx="718.5" cy="807.5" rx="9" ry="6.5" fill="#fff" /></g>
<g stroke="#000" stroke-width="1.1"><path d="M710,853 C709,844 713,841 717,841 C721,841 725,844 724,853 L724,854 A7,4 0 0 1 710,854 Z" fill="#fff"/><path d="M709.5,846 A7.5,3.5 0 0 1 724.5,846" fill="none" stroke-width="0.9"/><ellipse cx="717" cy="853.5" rx="6.5" ry="4" fill="none" /></g>
<g transform="translate(51 150.5)" stroke="#000" stroke-width="1.1"><path d="M588.3,734.7 C589,731.5 591,729.2 591,729.2 C593,728 595.5,727.5 597.6,727.5 C600,727.5 602,729.75 603,729.75 C605,729.5 607,729 608.6,728.6 C610.5,728 612,727 613,725.9 L642.7,727 C643.5,728.5 644.5,729.5 646,730.3 C649,731 652,731 654.8,730.9 C657.5,730.5 659.5,729 661.4,728.1 C664,727.6 666.5,727.5 669.1,727.5 C671.5,728.5 673.5,729.5 674.6,731.4 C676,733.5 676.8,736 676.8,738 C676.8,741 675.8,744 674.6,745.7 C672.5,747.5 670.5,748.5 668,748.5 C665.5,748.5 663,747.8 661.4,746.8 C659.5,745.5 658,744 657,742.4 C650,743.5 642,744 636,744.6 C633,746.5 630.5,749 628.4,749 C625,749 622,748 619.6,746.8 C612,745 605,743.5 599.3,742.4 C596,742.5 593,743 590,743.5 C589,741.5 588.5,740 588.3,738 Z" fill="#fff"/><path d="M603,734.7 L616.3,735.2 M603,738 L617.4,738.5 M637.8,734.7 L661.4,734.2 M590,738.5 C600,740 612,742 628,745 C640,743 650,740.5 659,737" fill="none" stroke-width="0.9"/><path d="M622,747.5 C626,749.5 631,749.5 635,746" fill="none" stroke-width="2"/><ellipse cx="666.5" cy="740.8" rx="7.2" ry="6.8" fill="none" /><ellipse cx="666.9" cy="740.8" rx="4.4" ry="3.6" fill="#fff" /><path d="M613.5,723.7 L613.5,731 C616,736 622,738.5 628.1,738.5 C634,738.5 640,736 642.7,731 L642.7,723.7 Z" fill="#fff"/><ellipse cx="628.1" cy="723.75" rx="14.6" ry="8.25" fill="#fff" /><ellipse cx="628.1" cy="724.5" rx="11.5" ry="5.9" fill="#fff" /></g>
<line x1="679.5" y1="864" x2="679.5" y2="876" stroke="#000" stroke-width="1.1"/>
<g transform="translate(679.5 927.5)"><g stroke="#000" stroke-width="1"><ellipse cx="0" cy="0" rx="14.75" ry="9.5" fill="#fff"/><path d="M-14.6,0.3 A14.6,9.1 0 0 0 14.6,0.3" fill="none" stroke-width="0.8"/><ellipse cx="0" cy="-1.2" rx="14.5" ry="8.4" fill="none"/><ellipse cx="-0.6" cy="-0.8" rx="10.6" ry="5.3" fill="#fff"/><path d="M-1,-1 L-17,-1.5 L-10,-12 Z" fill="#fff" stroke="none"/><path d="M-14.7,-1.2 C-14.5,-3.5 -12.5,-4.8 -11,-3.8 C-10,-3 -10.5,-1.5 -11.2,-1.8" fill="none"/><path d="M-9.2,-8.3 C-8.2,-10.3 -5.5,-10.2 -5.2,-8.5 C-5,-7.2 -6.2,-6.8 -6.8,-7.3" fill="none"/></g></g>
<g stroke="#000" stroke-width="1.1"><path d="M714,932 L723,932 L723,951 L714,951 Z" fill="#fff"/><path d="M716,951 L721,951 L721,955 L716,955 Z" fill="#fff"/><path d="M714,932 A4.5,1.5 0 0 0 723,932" fill="none" stroke-width="0.9"/><path d="M714,935.17 A4.5,1.5 0 0 0 723,935.17" fill="none" stroke-width="0.9"/><path d="M714,938.33 A4.5,1.5 0 0 0 723,938.33" fill="none" stroke-width="0.9"/><path d="M714,941.5 A4.5,1.5 0 0 0 723,941.5" fill="none" stroke-width="0.9"/><path d="M714,944.67 A4.5,1.5 0 0 0 723,944.67" fill="none" stroke-width="0.9"/><path d="M714,947.83 A4.5,1.5 0 0 0 723,947.83" fill="none" stroke-width="0.9"/><path d="M714,951 A4.5,1.5 0 0 0 723,951" fill="none" stroke-width="0.9"/></g>
<g stroke="#000" stroke-width="1.1"><path d="M709.7,973 L709.7,977 L726.3,977 L726.3,973 Z" fill="#fff"/><path d="M709.7,973 L709.7,977 A8.3,5 0 0 0 726.3,977 L726.3,973" fill="#fff"/><polygon points="726.3,973 722.15,979.5 713.85,979.5 709.7,973 713.85,966.5 722.15,966.5" fill="#fff"/><ellipse cx="718" cy="973" rx="5.5" ry="5" fill="none" /><ellipse cx="718" cy="973.5" rx="3.5" ry="3.2" fill="#fff" /></g>
<g stroke="#000" stroke-width="1.1"><ellipse cx="432" cy="762.5" rx="18" ry="15.5" fill="#fff" /><path d="M425.5,760.5 L425.5,798 A6.5,4.5 0 0 0 438.5,798 L438.5,760.5 A6.5,5 0 0 0 425.5,760.5 Z" fill="#fff"/><ellipse cx="432" cy="798" rx="6.5" ry="4.5" fill="#fff" /></g>
<g stroke="#000" stroke-width="1.1"><ellipse cx="375.5" cy="778" rx="18" ry="15.5" fill="#fff" /><path d="M369,776 L369,812 A6.5,4.5 0 0 0 382,812 L382,776 A6.5,5 0 0 0 369,776 Z" fill="#fff"/><ellipse cx="375.5" cy="812" rx="6.5" ry="4.5" fill="#fff" /></g>
<g stroke="#000" stroke-width="1.1"><path d="M370.8,843 L379.2,843 L379.2,976 L370.8,976 Z" fill="#fff"/><ellipse cx="375" cy="842.5" rx="4.6" ry="4" fill="#fff" /><path d="M370.6,845 A4.5,3 0 0 1 379.4,845" fill="none"/><ellipse cx="375" cy="976" rx="5" ry="4.8" fill="#fff" /></g>
<g stroke="#000" stroke-width="1.1"><path d="M427.3,827 L435.7,827 L435.7,961 L427.3,961 Z" fill="#fff"/><ellipse cx="431.5" cy="826.5" rx="4.6" ry="4" fill="#fff" /><path d="M427.1,829 A4.5,3 0 0 1 435.9,829" fill="none"/><ellipse cx="431.5" cy="961" rx="5" ry="4.8" fill="#fff" /></g>
<g font-family="Liberation Sans" font-size="17" fill="#000" stroke="#000" stroke-width="0.85">
<text x="214" y="49">9</text>
<text x="225" y="49">2</text>
<text x="236" y="49">0</text>
<text x="247" y="49">1</text>
<text x="258" y="49">5</text>
<text x="252" y="77">9</text>
<text x="263" y="77">2</text>
<text x="274" y="77">0</text>
<text x="285" y="77">0</text>
<text x="296" y="77">9</text>
<text x="389" y="50">4</text>
<text x="400" y="50">8</text>
<text x="411" y="50">0</text>
<text x="388" y="133">1</text>
<text x="399" y="133">2</text>
<text x="410" y="133">0</text>
<text x="421" y="133">2</text>
<text x="432" y="133">0</text>
<text x="383" y="212">1</text>
<text x="394" y="212">2</text>
<text x="405" y="212">0</text>
<text x="416" y="212">1</text>
<text x="427" y="212">6</text>
<text x="196" y="251">9</text>
<text x="207" y="251">2</text>
<text x="218" y="251">0</text>
<text x="229" y="251">1</text>
<text x="240" y="251">5</text>
<text x="237" y="272">9</text>
<text x="248" y="272">2</text>
<text x="259" y="272">0</text>
<text x="270" y="272">0</text>
<text x="281" y="272">9</text>
<text x="196" y="290">1</text>
<text x="207" y="290">2</text>
<text x="218" y="290">0</text>
<text x="229" y="290">1</text>
<text x="240" y="290">6</text>
<text x="390" y="328">4</text>
<text x="401" y="328">8</text>
<text x="412" y="328">0</text>
<text x="509" y="81">1</text>
<text x="520" y="81">2</text>
<text x="531" y="81">0</text>
<text x="542" y="81">1</text>
<text x="553" y="81">1</text>
<text x="569" y="119">1</text>
<text x="580" y="119">2</text>
<text x="591" y="119">0</text>
<text x="602" y="119">0</text>
<text x="613" y="119">9</text>
<text x="625" y="145">4</text>
<text x="636" y="145">9</text>
<text x="647" y="145">0</text>
<text x="658" y="145">7</text>
<text x="669" y="145">8</text>
<text x="680" y="171">3</text>
<text x="691" y="171">9</text>
<text x="702" y="171">1</text>
<text x="713" y="171">0</text>
<text x="724" y="171">8</text>
<text x="716" y="200">9</text>
<text x="727" y="200">2</text>
<text x="738" y="200">0</text>
<text x="749" y="200">4</text>
<text x="760" y="200">9</text>
<text x="788" y="244">1</text>
<text x="799" y="244">2</text>
<text x="810" y="244">0</text>
<text x="821" y="244">0</text>
<text x="832" y="244">4</text>
<text x="503" y="267">1</text>
<text x="514" y="267">2</text>
<text x="525" y="267">0</text>
<text x="536" y="267">1</text>
<text x="547" y="267">1</text>
<text x="564" y="307">1</text>
<text x="575" y="307">2</text>
<text x="586" y="307">0</text>
<text x="597" y="307">0</text>
<text x="608" y="307">9</text>
<text x="613" y="334">4</text>
<text x="624" y="334">9</text>
<text x="635" y="334">0</text>
<text x="646" y="334">7</text>
<text x="657" y="334">8</text>
<text x="674" y="361">3</text>
<text x="685" y="361">9</text>
<text x="696" y="361">1</text>
<text x="707" y="361">0</text>
<text x="718" y="361">8</text>
<text x="713" y="385">9</text>
<text x="724" y="385">2</text>
<text x="735" y="385">0</text>
<text x="746" y="385">4</text>
<text x="757" y="385">9</text>
<text x="785" y="425">1</text>
<text x="796" y="425">2</text>
<text x="807" y="425">0</text>
<text x="818" y="425">0</text>
<text x="829" y="425">5</text>
<text x="224" y="374">1</text>
<text x="235" y="374">3</text>
<text x="246" y="374">1</text>
<text x="257" y="374">1</text>
<text x="268" y="374">6</text>
<text x="328" y="430">1</text>
<text x="339" y="430">2</text>
<text x="350" y="430">0</text>
<text x="361" y="430">3</text>
<text x="372" y="430">2</text>
<text x="171" y="504">1</text>
<text x="182" y="504">3</text>
<text x="193" y="504">1</text>
<text x="204" y="504">1</text>
<text x="215" y="504">6</text>
<text x="222" y="523">1</text>
<text x="233" y="523">2</text>
<text x="244" y="523">0</text>
<text x="255" y="523">3</text>
<text x="266" y="523">2</text>
<text x="208" y="660">4</text>
<text x="219" y="660">9</text>
<text x="230" y="660">1</text>
<text x="241" y="660">1</text>
<text x="252" y="660">8</text>
<text x="537" y="445">4</text>
<text x="548" y="445">8</text>
<text x="559" y="445">0</text>
<text x="718" y="447">1</text>
<text x="729" y="447">2</text>
<text x="740" y="447">0</text>
<text x="751" y="447">0</text>
<text x="762" y="447">4</text>
<text x="519" y="512">1</text>
<text x="530" y="512">2</text>
<text x="541" y="512">0</text>
<text x="552" y="512">2</text>
<text x="563" y="512">0</text>
<text x="721" y="500">9</text>
<text x="732" y="500">2</text>
<text x="743" y="500">0</text>
<text x="754" y="500">4</text>
<text x="765" y="500">9</text>
<text x="731" y="537">3</text>
<text x="742" y="537">9</text>
<text x="753" y="537">1</text>
<text x="764" y="537">0</text>
<text x="775" y="537">8</text>
<text x="560" y="600">4</text>
<text x="571" y="600">9</text>
<text x="582" y="600">0</text>
<text x="593" y="600">7</text>
<text x="604" y="600">8</text>
<text x="769" y="623">1</text>
<text x="780" y="623">2</text>
<text x="791" y="623">0</text>
<text x="802" y="623">0</text>
<text x="813" y="623">5</text>
<text x="551" y="661">1</text>
<text x="562" y="661">2</text>
<text x="573" y="661">0</text>
<text x="584" y="661">0</text>
<text x="595" y="661">9</text>
<text x="772" y="669">9</text>
<text x="783" y="669">2</text>
<text x="794" y="669">0</text>
<text x="805" y="669">4</text>
<text x="816" y="669">9</text>
<text x="560" y="695">1</text>
<text x="571" y="695">2</text>
<text x="582" y="695">0</text>
<text x="593" y="695">1</text>
<text x="604" y="695">1</text>
<text x="782" y="705">3</text>
<text x="793" y="705">9</text>
<text x="804" y="705">1</text>
<text x="815" y="705">0</text>
<text x="826" y="705">8</text>
<text x="491" y="744">1</text>
<text x="502" y="744">2</text>
<text x="513" y="744">0</text>
<text x="524" y="744">1</text>
<text x="535" y="744">6</text>
<text x="775" y="763">4</text>
<text x="786" y="763">9</text>
<text x="797" y="763">0</text>
<text x="808" y="763">7</text>
<text x="819" y="763">8</text>
<text x="564" y="784">9</text>
<text x="575" y="784">2</text>
<text x="586" y="784">0</text>
<text x="597" y="784">0</text>
<text x="608" y="784">9</text>
<text x="562" y="811">9</text>
<text x="573" y="811">2</text>
<text x="584" y="811">0</text>
<text x="595" y="811">1</text>
<text x="606" y="811">5</text>
<text x="782" y="819">1</text>
<text x="793" y="819">2</text>
<text x="804" y="819">0</text>
<text x="815" y="819">0</text>
<text x="826" y="819">9</text>
<text x="770" y="853">1</text>
<text x="781" y="853">2</text>
<text x="792" y="853">0</text>
<text x="803" y="853">1</text>
<text x="814" y="853">1</text>
<text x="773" y="894">1</text>
<text x="784" y="894">2</text>
<text x="795" y="894">0</text>
<text x="806" y="894">1</text>
<text x="817" y="894">6</text>
<text x="589" y="936">4</text>
<text x="600" y="936">8</text>
<text x="611" y="936">0</text>
<text x="766" y="947">9</text>
<text x="777" y="947">2</text>
<text x="788" y="947">0</text>
<text x="799" y="947">0</text>
<text x="810" y="947">9</text>
<text x="770" y="977">9</text>
<text x="781" y="977">2</text>
<text x="792" y="977">0</text>
<text x="803" y="977">1</text>
<text x="814" y="977">5</text>
<text x="328" y="755">1</text>
<text x="339" y="755">2</text>
<text x="350" y="755">0</text>
<text x="361" y="755">3</text>
<text x="372" y="755">2</text>
<text x="261" y="787">1</text>
<text x="272" y="787">2</text>
<text x="283" y="787">0</text>
<text x="294" y="787">3</text>
<text x="305" y="787">2</text>
<text x="479" y="898">1</text>
<text x="490" y="898">3</text>
<text x="501" y="898">1</text>
<text x="512" y="898">1</text>
<text x="523" y="898">6</text>
<text x="275" y="931">1</text>
<text x="286" y="931">3</text>
<text x="297" y="931">1</text>
<text x="308" y="931">1</text>
<text x="319" y="931">6</text>
</g>
<g fill="#fff"><rect x="246.50" y="46.60" width="4.3" height="3.6"/><rect x="253.70" y="46.60" width="3" height="3.6"/><rect x="387.50" y="130.60" width="4.3" height="3.6"/><rect x="394.70" y="130.60" width="3" height="3.6"/><rect x="382.50" y="209.60" width="4.3" height="3.6"/><rect x="389.70" y="209.60" width="3" height="3.6"/><rect x="415.50" y="209.60" width="4.3" height="3.6"/><rect x="422.70" y="209.60" width="3" height="3.6"/><rect x="228.50" y="248.60" width="4.3" height="3.6"/><rect x="235.70" y="248.60" width="3" height="3.6"/><rect x="195.50" y="287.60" width="4.3" height="3.6"/><rect x="202.70" y="287.60" width="3" height="3.6"/><rect x="228.50" y="287.60" width="4.3" height="3.6"/><rect x="235.70" y="287.60" width="3" height="3.6"/><rect x="508.50" y="78.60" width="4.3" height="3.6"/><rect x="515.70" y="78.60" width="3" height="3.6"/><rect x="541.50" y="78.60" width="4.3" height="3.6"/><rect x="548.70" y="78.60" width="3" height="3.6"/><rect x="552.50" y="78.60" width="4.3" height="3.6"/><rect x="559.70" y="78.60" width="3" height="3.6"/><rect x="568.50" y="116.60" width="4.3" height="3.6"/><rect x="575.70" y="116.60" width="3" height="3.6"/><rect x="701.50" y="168.60" width="4.3" height="3.6"/><rect x="708.70" y="168.60" width="3" height="3.6"/><rect x="787.50" y="241.60" width="4.3" height="3.6"/><rect x="794.70" y="241.60" width="3" height="3.6"/><rect x="502.50" y="264.60" width="4.3" height="3.6"/><rect x="509.70" y="264.60" width="3" height="3.6"/><rect x="535.50" y="264.60" width="4.3" height="3.6"/><rect x="542.70" y="264.60" width="3" height="3.6"/><rect x="546.50" y="264.60" width="4.3" height="3.6"/><rect x="553.70" y="264.60" width="3" height="3.6"/><rect x="563.50" y="304.60" width="4.3" height="3.6"/><rect x="570.70" y="304.60" width="3" height="3.6"/><rect x="695.50" y="358.60" width="4.3" height="3.6"/><rect x="702.70" y="358.60" width="3" height="3.6"/><rect x="784.50" y="422.60" width="4.3" height="3.6"/><rect x="791.70" y="422.60" width="3" height="3.6"/><rect x="223.50" y="371.60" width="4.3" height="3.6"/><rect x="230.70" y="371.60" width="3" height="3.6"/><rect x="245.50" y="371.60" width="4.3" height="3.6"/><rect x="252.70" y="371.60" width="3" height="3.6"/><rect x="256.50" y="371.60" width="4.3" height="3.6"/><rect x="263.70" y="371.60" width="3" height="3.6"/><rect x="327.50" y="427.60" width="4.3" height="3.6"/><rect x="334.70" y="427.60" width="3" height="3.6"/><rect x="170.50" y="501.60" width="4.3" height="3.6"/><rect x="177.70" y="501.60" width="3" height="3.6"/><rect x="192.50" y="501.60" width="4.3" height="3.6"/><rect x="199.70" y="501.60" width="3" height="3.6"/><rect x="203.50" y="501.60" width="4.3" height="3.6"/><rect x="210.70" y="501.60" width="3" height="3.6"/><rect x="221.50" y="520.60" width="4.3" height="3.6"/><rect x="228.70" y="520.60" width="3" height="3.6"/><rect x="229.50" y="657.60" width="4.3" height="3.6"/><rect x="236.70" y="657.60" width="3" height="3.6"/><rect x="240.50" y="657.60" width="4.3" height="3.6"/><rect x="247.70" y="657.60" width="3" height="3.6"/><rect x="717.50" y="444.60" width="4.3" height="3.6"/><rect x="724.70" y="444.60" width="3" height="3.6"/><rect x="518.50" y="509.60" width="4.3" height="3.6"/><rect x="525.70" y="509.60" width="3" height="3.6"/><rect x="752.50" y="534.60" width="4.3" height="3.6"/><rect x="759.70" y="534.60" width="3" height="3.6"/><rect x="768.50" y="620.60" width="4.3" height="3.6"/><rect x="775.70" y="620.60" width="3" height="3.6"/><rect x="550.50" y="658.60" width="4.3" height="3.6"/><rect x="557.70" y="658.60" width="3" height="3.6"/><rect x="559.50" y="692.60" width="4.3" height="3.6"/><rect x="566.70" y="692.60" width="3" height="3.6"/><rect x="592.50" y="692.60" width="4.3" height="3.6"/><rect x="599.70" y="692.60" width="3" height="3.6"/><rect x="603.50" y="692.60" width="4.3" height="3.6"/><rect x="610.70" y="692.60" width="3" height="3.6"/><rect x="803.50" y="702.60" width="4.3" height="3.6"/><rect x="810.70" y="702.60" width="3" height="3.6"/><rect x="490.50" y="741.60" width="4.3" height="3.6"/><rect x="497.70" y="741.60" width="3" height="3.6"/><rect x="523.50" y="741.60" width="4.3" height="3.6"/><rect x="530.70" y="741.60" width="3" height="3.6"/><rect x="594.50" y="808.60" width="4.3" height="3.6"/><rect x="601.70" y="808.60" width="3" height="3.6"/><rect x="781.50" y="816.60" width="4.3" height="3.6"/><rect x="788.70" y="816.60" width="3" height="3.6"/><rect x="769.50" y="850.60" width="4.3" height="3.6"/><rect x="776.70" y="850.60" width="3" height="3.6"/><rect x="802.50" y="850.60" width="4.3" height="3.6"/><rect x="809.70" y="850.60" width="3" height="3.6"/><rect x="813.50" y="850.60" width="4.3" height="3.6"/><rect x="820.70" y="850.60" width="3" height="3.6"/><rect x="772.50" y="891.60" width="4.3" height="3.6"/><rect x="779.70" y="891.60" width="3" height="3.6"/><rect x="805.50" y="891.60" width="4.3" height="3.6"/><rect x="812.70" y="891.60" width="3" height="3.6"/><rect x="802.50" y="974.60" width="4.3" height="3.6"/><rect x="809.70" y="974.60" width="3" height="3.6"/><rect x="327.50" y="752.60" width="4.3" height="3.6"/><rect x="334.70" y="752.60" width="3" height="3.6"/><rect x="260.50" y="784.60" width="4.3" height="3.6"/><rect x="267.70" y="784.60" width="3" height="3.6"/><rect x="478.50" y="895.60" width="4.3" height="3.6"/><rect x="485.70" y="895.60" width="3" height="3.6"/><rect x="500.50" y="895.60" width="4.3" height="3.6"/><rect x="507.70" y="895.60" width="3" height="3.6"/><rect x="511.50" y="895.60" width="4.3" height="3.6"/><rect x="518.70" y="895.60" width="3" height="3.6"/><rect x="274.50" y="928.60" width="4.3" height="3.6"/><rect x="281.70" y="928.60" width="3" height="3.6"/><rect x="296.50" y="928.60" width="4.3" height="3.6"/><rect x="303.70" y="928.60" width="3" height="3.6"/><rect x="307.50" y="928.60" width="4.3" height="3.6"/><rect x="314.70" y="928.60" width="3" height="3.6"/></g>
<path style="mix-blend-mode:multiply" fill="#eff0ef" fill-rule="evenodd" d="M298,567 L382,431 L466,567 L438,567 L427,548 L342,548 L331,567 Z M382,482 L409,532 L355,532 Z M474,437 L560,437 C586,437 598,454 598,478 C598,500 588,514 572,520 L640,567 L604,567 L531,521 L505,521 L505,567 L474,567 Z M505,467 L548,467 C560,467 566,474 566,483 C566,492 560,499 548,499 L505,499 Z M634,436 L666,436 L666,567 L634,567 Z"/>
<g fill="#b4b4b4"><rect x="709" y="0" width="11" height="2.2"/><rect x="727" y="0" width="3" height="1.6"/><rect x="742" y="0" width="3" height="2"/><rect x="757" y="0" width="3" height="1.6"/><rect x="771" y="0" width="3" height="2"/><rect x="795" y="0" width="3" height="2"/><rect x="805" y="0" width="3" height="2"/><rect x="816" y="0" width="3" height="1.6"/><rect x="830" y="0" width="3" height="1.6"/><rect x="845" y="0" width="3" height="2"/><rect x="855" y="0" width="3" height="2"/><rect x="865" y="0" width="3" height="2"/></g></svg></body></html>
